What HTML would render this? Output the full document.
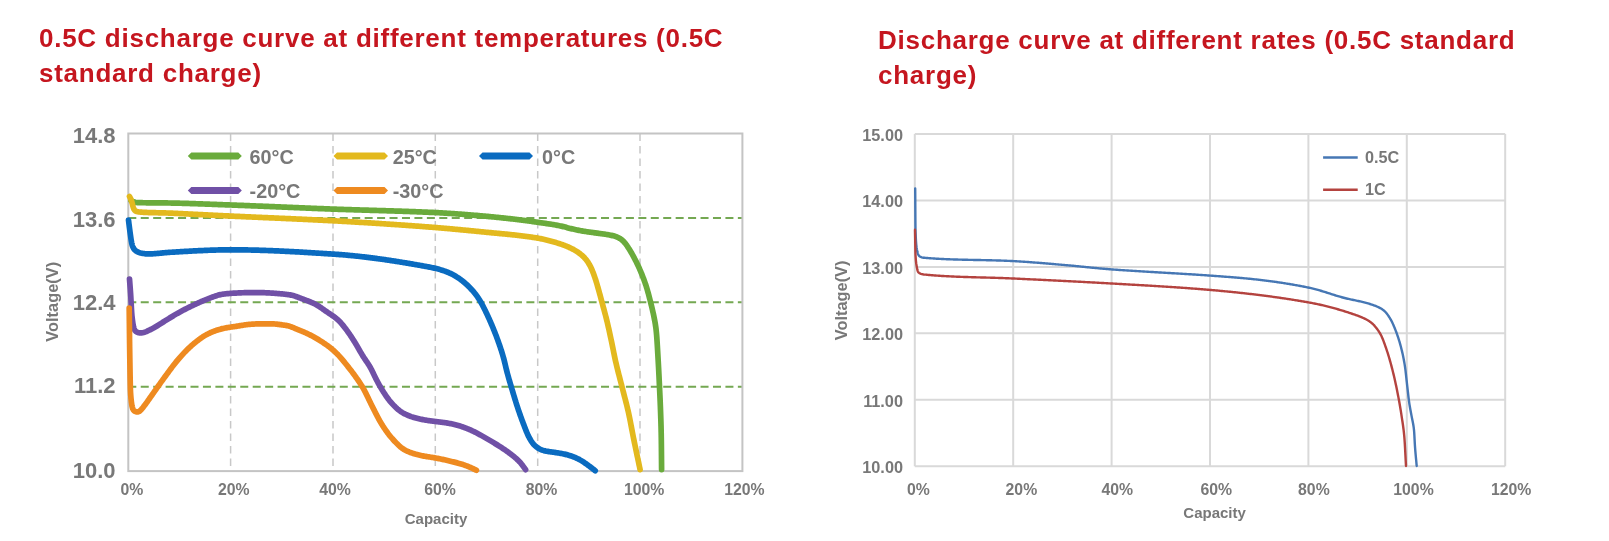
<!DOCTYPE html>
<html><head><meta charset="utf-8"><style>
html,body{margin:0;padding:0;background:#fff;width:1609px;height:541px;overflow:hidden}
svg{display:block;will-change:transform}
text{font-family:"Liberation Sans",sans-serif;font-weight:bold}
.title{font-size:26px;fill:#c5161f;letter-spacing:0.74px}
.ly{font-size:22px;fill:#787878}
.lxl{font-size:15.8px;fill:#787878}
.cap{font-size:15px;fill:#787878}
.volt{font-size:16.4px;fill:#787878}
.leg{font-size:19.8px;fill:#787878}
.ry{font-size:16.3px;fill:#787878}
.rxl{font-size:15.8px;fill:#787878}
.rleg{font-size:16.2px;fill:#787878}
</style></head><body>
<svg width="1609" height="541" viewBox="0 0 1609 541">
<text x="39" y="47" class="title">0.5C discharge curve at different temperatures (0.5C</text>
<text x="39" y="81.5" class="title">standard charge)</text>
<text x="878" y="49.1" class="title">Discharge curve at different rates (0.5C standard</text>
<text x="878" y="83.8" class="title">charge)</text>
<line x1="230.6" y1="133.5" x2="230.6" y2="471.1" stroke="#c8c8c8" stroke-width="1.5" stroke-dasharray="7.5,5"/>
<line x1="333.0" y1="133.5" x2="333.0" y2="471.1" stroke="#c8c8c8" stroke-width="1.5" stroke-dasharray="7.5,5"/>
<line x1="435.3" y1="133.5" x2="435.3" y2="471.1" stroke="#c8c8c8" stroke-width="1.5" stroke-dasharray="7.5,5"/>
<line x1="537.7" y1="133.5" x2="537.7" y2="471.1" stroke="#c8c8c8" stroke-width="1.5" stroke-dasharray="7.5,5"/>
<line x1="640.0" y1="133.5" x2="640.0" y2="471.1" stroke="#c8c8c8" stroke-width="1.5" stroke-dasharray="7.5,5"/>
<line x1="128.3" y1="217.9" x2="742.4" y2="217.9" stroke="#74a852" stroke-width="2" stroke-dasharray="8,4.44"/>
<line x1="128.3" y1="302.3" x2="742.4" y2="302.3" stroke="#74a852" stroke-width="2" stroke-dasharray="8,4.44"/>
<line x1="128.3" y1="386.7" x2="742.4" y2="386.7" stroke="#74a852" stroke-width="2" stroke-dasharray="8,4.44"/>
<rect x="128.3" y="133.5" width="614.1" height="337.6" fill="none" stroke="#c4c4c4" stroke-width="2"/>
<text x="115.5" y="142.8" class="ly" text-anchor="end">14.8</text>
<text x="115.5" y="227.2" class="ly" text-anchor="end">13.6</text>
<text x="115.5" y="309.6" class="ly" text-anchor="end">12.4</text>
<text x="115.5" y="393.1" class="ly" text-anchor="end">11.2</text>
<text x="115.5" y="477.6" class="ly" text-anchor="end">10.0</text>
<text x="131.8" y="495" class="lxl" text-anchor="middle">0%</text>
<text x="233.7" y="495" class="lxl" text-anchor="middle">20%</text>
<text x="335.0" y="495" class="lxl" text-anchor="middle">40%</text>
<text x="440.0" y="495" class="lxl" text-anchor="middle">60%</text>
<text x="541.6" y="495" class="lxl" text-anchor="middle">80%</text>
<text x="644.1" y="495" class="lxl" text-anchor="middle">100%</text>
<text x="744.4" y="495" class="lxl" text-anchor="middle">120%</text>
<text x="436" y="524.3" class="cap" text-anchor="middle">Capacity</text>
<text transform="translate(57.5,301.8) rotate(-90)" class="volt" text-anchor="middle">Voltage(V)</text>
<path d="M131.00,200.50 L131.83,201.00 L132.68,201.45 L133.56,201.84 L134.47,202.13 L135.41,202.34 L136.38,202.48 L137.36,202.56 L138.35,202.62 L139.35,202.65 L140.35,202.68 L141.35,202.70 L142.35,202.72 L143.35,202.74 L144.35,202.75 L145.35,202.77 L146.35,202.78 L147.35,202.79 L148.35,202.80 L149.35,202.81 L150.35,202.82 L151.35,202.83 L152.34,202.83 L153.34,202.84 L154.34,202.85 L155.34,202.85 L156.34,202.86 L157.34,202.87 L158.34,202.87 L159.34,202.88 L160.34,202.89 L161.34,202.89 L162.34,202.90 L163.34,202.91 L164.34,202.92 L165.34,202.93 L166.34,202.95 L167.34,202.96 L168.34,202.98 L169.34,202.99 L170.34,203.01 L171.34,203.03 L172.34,203.05 L173.34,203.07 L174.34,203.09 L175.34,203.11 L176.34,203.14 L177.34,203.16 L178.34,203.19 L179.34,203.21 L180.34,203.24 L181.34,203.26 L182.34,203.29 L183.34,203.32 L184.34,203.35 L185.34,203.38 L186.34,203.41 L187.34,203.44 L188.34,203.47 L189.34,203.50 L190.34,203.53 L191.34,203.56 L192.34,203.60 L193.34,203.63 L194.33,203.66 L195.33,203.70 L196.33,203.73 L197.33,203.76 L198.33,203.80 L199.33,203.83 L200.33,203.87 L201.33,203.91 L202.33,203.94 L203.33,203.98 L204.33,204.01 L205.33,204.05 L206.33,204.09 L207.33,204.12 L208.33,204.16 L209.33,204.20 L210.32,204.24 L211.32,204.27 L212.32,204.31 L213.32,204.35 L214.32,204.39 L215.32,204.42 L216.32,204.46 L217.32,204.50 L218.32,204.54 L219.32,204.58 L220.32,204.61 L221.32,204.65 L222.32,204.69 L223.32,204.73 L224.31,204.76 L225.31,204.80 L226.31,204.84 L227.31,204.87 L228.31,204.91 L229.31,204.95 L230.31,204.98 L231.31,205.02 L232.31,205.05 L233.31,205.09 L234.31,205.13 L235.31,205.16 L236.31,205.20 L237.31,205.24 L238.31,205.28 L239.30,205.31 L240.30,205.35 L241.30,205.39 L242.30,205.43 L243.30,205.46 L244.30,205.50 L245.30,205.54 L246.30,205.58 L247.30,205.62 L248.30,205.66 L249.30,205.70 L250.30,205.74 L251.30,205.78 L252.29,205.82 L253.29,205.86 L254.29,205.90 L255.29,205.94 L256.29,205.98 L257.29,206.02 L258.29,206.06 L259.29,206.10 L260.29,206.14 L261.29,206.18 L262.29,206.22 L263.29,206.26 L264.28,206.30 L265.28,206.34 L266.28,206.38 L267.28,206.42 L268.28,206.47 L269.28,206.51 L270.28,206.55 L271.28,206.59 L272.28,206.63 L273.28,206.67 L274.28,206.71 L275.28,206.76 L276.27,206.80 L277.27,206.84 L278.27,206.88 L279.27,206.92 L280.27,206.97 L281.27,207.01 L282.27,207.05 L283.27,207.09 L284.27,207.13 L285.27,207.17 L286.27,207.22 L287.27,207.26 L288.26,207.30 L289.26,207.34 L290.26,207.38 L291.26,207.43 L292.26,207.47 L293.26,207.51 L294.26,207.55 L295.26,207.59 L296.26,207.63 L297.26,207.68 L298.26,207.72 L299.25,207.76 L300.25,207.80 L301.25,207.84 L302.25,207.88 L303.25,207.92 L304.25,207.96 L305.25,208.01 L306.25,208.05 L307.25,208.09 L308.25,208.13 L309.25,208.17 L310.25,208.21 L311.24,208.25 L312.24,208.29 L313.24,208.33 L314.24,208.37 L315.24,208.41 L316.24,208.45 L317.24,208.49 L318.24,208.53 L319.24,208.57 L320.24,208.61 L321.24,208.65 L322.24,208.68 L323.24,208.72 L324.23,208.76 L325.23,208.80 L326.23,208.84 L327.23,208.88 L328.23,208.91 L329.23,208.95 L330.23,208.99 L331.23,209.03 L332.23,209.06 L333.23,209.10 L334.23,209.14 L335.23,209.17 L336.23,209.21 L337.23,209.24 L338.22,209.28 L339.22,209.31 L340.22,209.35 L341.22,209.38 L342.22,209.42 L343.22,209.45 L344.22,209.48 L345.22,209.52 L346.22,209.55 L347.22,209.58 L348.22,209.61 L349.22,209.65 L350.22,209.68 L351.22,209.71 L352.22,209.74 L353.22,209.77 L354.22,209.80 L355.22,209.83 L356.22,209.87 L357.21,209.90 L358.21,209.93 L359.21,209.96 L360.21,209.99 L361.21,210.02 L362.21,210.05 L363.21,210.08 L364.21,210.11 L365.21,210.14 L366.21,210.17 L367.21,210.19 L368.21,210.22 L369.21,210.25 L370.21,210.28 L371.21,210.31 L372.21,210.34 L373.21,210.37 L374.21,210.40 L375.21,210.43 L376.21,210.46 L377.21,210.49 L378.21,210.52 L379.21,210.55 L380.20,210.58 L381.20,210.61 L382.20,210.64 L383.20,210.66 L384.20,210.69 L385.20,210.72 L386.20,210.75 L387.20,210.78 L388.20,210.82 L389.20,210.85 L390.20,210.88 L391.20,210.91 L392.20,210.94 L393.20,210.97 L394.20,211.00 L395.20,211.03 L396.20,211.06 L397.20,211.10 L398.20,211.13 L399.20,211.16 L400.20,211.19 L401.19,211.22 L402.19,211.26 L403.19,211.29 L404.19,211.33 L405.19,211.36 L406.19,211.39 L407.19,211.43 L408.19,211.46 L409.19,211.50 L410.19,211.53 L411.19,211.57 L412.19,211.61 L413.19,211.64 L414.19,211.68 L415.19,211.72 L416.19,211.76 L417.18,211.79 L418.18,211.83 L419.18,211.87 L420.18,211.91 L421.18,211.95 L422.18,211.99 L423.18,212.03 L424.18,212.07 L425.18,212.12 L426.18,212.16 L427.18,212.20 L428.18,212.24 L429.17,212.29 L430.17,212.33 L431.17,212.38 L432.17,212.42 L433.17,212.47 L434.17,212.52 L435.17,212.56 L436.17,212.61 L437.17,212.66 L438.16,212.71 L439.16,212.76 L440.16,212.82 L441.16,212.87 L442.16,212.93 L443.16,212.98 L444.16,213.04 L445.15,213.10 L446.15,213.16 L447.15,213.23 L448.15,213.29 L449.15,213.35 L450.14,213.42 L451.14,213.48 L452.14,213.55 L453.14,213.62 L454.13,213.69 L455.13,213.76 L456.13,213.83 L457.13,213.90 L458.12,213.97 L459.12,214.05 L460.12,214.12 L461.12,214.20 L462.11,214.27 L463.11,214.35 L464.11,214.42 L465.10,214.50 L466.10,214.58 L467.10,214.66 L468.09,214.74 L469.09,214.81 L470.09,214.89 L471.09,214.97 L472.08,215.05 L473.08,215.13 L474.08,215.22 L475.07,215.30 L476.07,215.38 L477.07,215.46 L478.06,215.55 L479.06,215.63 L480.05,215.72 L481.05,215.81 L482.05,215.90 L483.04,215.98 L484.04,216.07 L485.03,216.16 L486.03,216.26 L487.03,216.35 L488.02,216.44 L489.02,216.54 L490.01,216.63 L491.01,216.73 L492.00,216.82 L493.00,216.92 L493.99,217.02 L494.99,217.12 L495.98,217.22 L496.98,217.32 L497.97,217.42 L498.97,217.52 L499.96,217.63 L500.96,217.73 L501.95,217.83 L502.95,217.94 L503.94,218.05 L504.94,218.15 L505.93,218.26 L506.92,218.37 L507.92,218.48 L508.91,218.59 L509.91,218.70 L510.90,218.81 L511.89,218.92 L512.89,219.03 L513.88,219.15 L514.87,219.26 L515.87,219.38 L516.86,219.49 L517.85,219.61 L518.85,219.73 L519.84,219.85 L520.83,219.97 L521.82,220.10 L522.82,220.22 L523.81,220.35 L524.80,220.48 L525.79,220.61 L526.78,220.75 L527.77,220.88 L528.76,221.02 L529.75,221.16 L530.74,221.29 L531.73,221.43 L532.72,221.57 L533.71,221.71 L534.70,221.86 L535.69,222.00 L536.68,222.14 L537.67,222.28 L538.66,222.42 L539.65,222.56 L540.64,222.70 L541.63,222.85 L542.62,222.99 L543.61,223.13 L544.60,223.27 L545.59,223.41 L546.58,223.56 L547.57,223.70 L548.56,223.85 L549.55,224.00 L550.54,224.15 L551.53,224.31 L552.51,224.47 L553.50,224.63 L554.49,224.80 L555.47,224.97 L556.45,225.14 L557.44,225.33 L558.42,225.52 L559.40,225.71 L560.38,225.92 L561.35,226.14 L562.33,226.37 L563.30,226.61 L564.26,226.86 L565.23,227.11 L566.20,227.37 L567.16,227.63 L568.13,227.89 L569.09,228.15 L570.06,228.40 L571.03,228.64 L572.00,228.87 L572.98,229.10 L573.95,229.32 L574.93,229.53 L575.91,229.74 L576.89,229.95 L577.87,230.15 L578.85,230.34 L579.83,230.53 L580.81,230.72 L581.79,230.90 L582.78,231.07 L583.77,231.24 L584.75,231.40 L585.74,231.56 L586.73,231.71 L587.72,231.85 L588.71,231.99 L589.70,232.13 L590.69,232.27 L591.68,232.40 L592.67,232.54 L593.66,232.67 L594.65,232.80 L595.64,232.94 L596.63,233.07 L597.63,233.20 L598.62,233.33 L599.61,233.46 L600.60,233.60 L601.59,233.73 L602.58,233.86 L603.57,234.00 L604.56,234.15 L605.55,234.30 L606.54,234.46 L607.52,234.62 L608.51,234.80 L609.49,234.98 L610.47,235.18 L611.45,235.38 L612.42,235.60 L613.39,235.84 L614.35,236.10 L615.31,236.39 L616.25,236.71 L617.18,237.07 L618.08,237.48 L618.96,237.93 L619.81,238.43 L620.64,238.98 L621.44,239.57 L622.21,240.20 L622.95,240.86 L623.66,241.55 L624.34,242.28 L624.99,243.03 L625.61,243.81 L626.21,244.60 L626.79,245.42 L627.35,246.24 L627.90,247.08 L628.44,247.92 L628.98,248.76 L629.50,249.61 L630.03,250.46 L630.55,251.32 L631.06,252.18 L631.56,253.04 L632.06,253.91 L632.55,254.78 L633.03,255.66 L633.51,256.53 L633.98,257.42 L634.45,258.30 L634.91,259.19 L635.37,260.08 L635.82,260.97 L636.26,261.86 L636.70,262.76 L637.14,263.66 L637.57,264.56 L638.00,265.47 L638.42,266.37 L638.84,267.28 L639.25,268.20 L639.65,269.11 L640.05,270.03 L640.45,270.94 L640.84,271.86 L641.23,272.79 L641.61,273.71 L641.98,274.64 L642.35,275.57 L642.72,276.50 L643.08,277.43 L643.44,278.36 L643.79,279.30 L644.14,280.24 L644.48,281.18 L644.82,282.12 L645.14,283.06 L645.47,284.01 L645.78,284.96 L646.10,285.91 L646.40,286.86 L646.70,287.81 L646.99,288.77 L647.27,289.73 L647.55,290.69 L647.82,291.65 L648.09,292.62 L648.35,293.58 L648.61,294.55 L648.86,295.51 L649.12,296.48 L649.37,297.45 L649.62,298.42 L649.87,299.39 L650.11,300.35 L650.36,301.32 L650.61,302.29 L650.85,303.26 L651.10,304.23 L651.34,305.20 L651.58,306.17 L651.82,307.14 L652.05,308.12 L652.28,309.09 L652.51,310.06 L652.73,311.04 L652.95,312.01 L653.16,312.99 L653.37,313.97 L653.58,314.95 L653.78,315.93 L653.98,316.91 L654.18,317.89 L654.37,318.87 L654.56,319.85 L654.75,320.83 L654.93,321.82 L655.10,322.80 L655.27,323.79 L655.42,324.77 L655.57,325.76 L655.72,326.75 L655.85,327.74 L655.98,328.73 L656.10,329.73 L656.21,330.72 L656.31,331.71 L656.41,332.71 L656.50,333.70 L656.59,334.70 L656.67,335.70 L656.74,336.69 L656.82,337.69 L656.89,338.69 L656.95,339.69 L657.02,340.69 L657.08,341.68 L657.15,342.68 L657.21,343.68 L657.27,344.68 L657.33,345.68 L657.39,346.67 L657.45,347.67 L657.51,348.67 L657.56,349.67 L657.62,350.67 L657.68,351.67 L657.73,352.66 L657.79,353.66 L657.85,354.66 L657.90,355.66 L657.96,356.66 L658.02,357.66 L658.07,358.65 L658.13,359.65 L658.19,360.65 L658.24,361.65 L658.30,362.65 L658.35,363.65 L658.41,364.65 L658.46,365.64 L658.51,366.64 L658.57,367.64 L658.62,368.64 L658.67,369.64 L658.72,370.64 L658.77,371.64 L658.82,372.63 L658.87,373.63 L658.92,374.63 L658.97,375.63 L659.02,376.63 L659.07,377.63 L659.11,378.63 L659.16,379.63 L659.21,380.62 L659.26,381.62 L659.30,382.62 L659.35,383.62 L659.40,384.62 L659.45,385.62 L659.49,386.62 L659.54,387.62 L659.59,388.62 L659.63,389.61 L659.68,390.61 L659.73,391.61 L659.77,392.61 L659.82,393.61 L659.86,394.61 L659.91,395.61 L659.96,396.61 L660.00,397.61 L660.05,398.61 L660.09,399.60 L660.13,400.60 L660.18,401.60 L660.22,402.60 L660.26,403.60 L660.30,404.60 L660.34,405.60 L660.38,406.60 L660.42,407.60 L660.45,408.60 L660.49,409.60 L660.53,410.60 L660.56,411.60 L660.60,412.59 L660.63,413.59 L660.67,414.59 L660.70,415.59 L660.74,416.59 L660.77,417.59 L660.81,418.59 L660.84,419.59 L660.87,420.59 L660.90,421.59 L660.93,422.59 L660.96,423.59 L660.99,424.59 L661.02,425.59 L661.05,426.59 L661.07,427.59 L661.10,428.59 L661.12,429.59 L661.14,430.59 L661.16,431.59 L661.19,432.59 L661.21,433.59 L661.23,434.59 L661.25,435.58 L661.26,436.58 L661.28,437.58 L661.30,438.58 L661.31,439.58 L661.33,440.58 L661.34,441.58 L661.35,442.58 L661.36,443.58 L661.38,444.58 L661.39,445.58 L661.40,446.58 L661.41,447.58 L661.42,448.58 L661.42,449.58 L661.43,450.58 L661.44,451.58 L661.45,452.58 L661.46,453.58 L661.47,454.58 L661.48,455.58 L661.49,456.58 L661.49,457.58 L661.50,458.58 L661.51,459.58 L661.52,460.58 L661.53,461.58 L661.54,462.58 L661.55,463.58 L661.55,464.57 L661.56,465.55 L661.57,466.51 L661.58,467.43 L661.59,468.32 L661.60,469.18 L661.60,469.60" fill="none" stroke="#6aab3c" stroke-width="5.7" stroke-linejoin="round" stroke-linecap="round"/>
<path d="M129.50,196.50 L129.97,197.38 L130.42,198.26 L130.83,199.16 L131.21,200.08 L131.54,201.02 L131.84,201.97 L132.10,202.93 L132.35,203.89 L132.59,204.86 L132.83,205.83 L133.08,206.79 L133.36,207.72 L133.69,208.62 L134.09,209.44 L134.59,210.16 L135.21,210.75 L135.94,211.20 L136.76,211.53 L137.66,211.75 L138.61,211.91 L139.59,212.02 L140.58,212.11 L141.57,212.18 L142.57,212.25 L143.57,212.31 L144.57,212.36 L145.57,212.41 L146.57,212.45 L147.56,212.49 L148.56,212.53 L149.56,212.56 L150.56,212.60 L151.56,212.62 L152.56,212.65 L153.56,212.67 L154.56,212.70 L155.56,212.72 L156.56,212.74 L157.56,212.76 L158.56,212.78 L159.56,212.80 L160.56,212.82 L161.56,212.84 L162.56,212.86 L163.56,212.89 L164.56,212.92 L165.56,212.94 L166.56,212.98 L167.56,213.01 L168.56,213.05 L169.56,213.09 L170.55,213.13 L171.55,213.17 L172.55,213.22 L173.55,213.26 L174.55,213.31 L175.55,213.36 L176.55,213.40 L177.55,213.45 L178.55,213.50 L179.55,213.55 L180.54,213.59 L181.54,213.64 L182.54,213.69 L183.54,213.74 L184.54,213.79 L185.54,213.84 L186.54,213.89 L187.54,213.94 L188.53,213.99 L189.53,214.04 L190.53,214.08 L191.53,214.13 L192.53,214.18 L193.53,214.23 L194.53,214.28 L195.53,214.33 L196.52,214.38 L197.52,214.43 L198.52,214.49 L199.52,214.54 L200.52,214.59 L201.52,214.64 L202.52,214.69 L203.52,214.74 L204.51,214.79 L205.51,214.84 L206.51,214.89 L207.51,214.94 L208.51,214.99 L209.51,215.04 L210.51,215.09 L211.51,215.14 L212.50,215.19 L213.50,215.24 L214.50,215.29 L215.50,215.34 L216.50,215.39 L217.50,215.44 L218.50,215.48 L219.50,215.53 L220.49,215.58 L221.49,215.63 L222.49,215.68 L223.49,215.73 L224.49,215.77 L225.49,215.82 L226.49,215.87 L227.49,215.92 L228.49,215.96 L229.48,216.01 L230.48,216.06 L231.48,216.10 L232.48,216.15 L233.48,216.20 L234.48,216.24 L235.48,216.29 L236.48,216.34 L237.48,216.38 L238.47,216.43 L239.47,216.47 L240.47,216.52 L241.47,216.56 L242.47,216.61 L243.47,216.65 L244.47,216.70 L245.47,216.74 L246.47,216.79 L247.47,216.83 L248.46,216.87 L249.46,216.92 L250.46,216.96 L251.46,217.01 L252.46,217.05 L253.46,217.09 L254.46,217.14 L255.46,217.18 L256.46,217.23 L257.46,217.27 L258.45,217.31 L259.45,217.36 L260.45,217.40 L261.45,217.44 L262.45,217.49 L263.45,217.53 L264.45,217.57 L265.45,217.62 L266.45,217.66 L267.45,217.70 L268.45,217.75 L269.44,217.79 L270.44,217.84 L271.44,217.88 L272.44,217.92 L273.44,217.97 L274.44,218.01 L275.44,218.05 L276.44,218.10 L277.44,218.14 L278.44,218.18 L279.44,218.23 L280.43,218.27 L281.43,218.32 L282.43,218.36 L283.43,218.40 L284.43,218.45 L285.43,218.49 L286.43,218.54 L287.43,218.58 L288.43,218.62 L289.43,218.67 L290.42,218.71 L291.42,218.76 L292.42,218.80 L293.42,218.85 L294.42,218.89 L295.42,218.94 L296.42,218.99 L297.42,219.03 L298.42,219.08 L299.42,219.12 L300.41,219.17 L301.41,219.21 L302.41,219.26 L303.41,219.31 L304.41,219.35 L305.41,219.40 L306.41,219.45 L307.41,219.50 L308.41,219.54 L309.40,219.59 L310.40,219.64 L311.40,219.69 L312.40,219.74 L313.40,219.78 L314.40,219.83 L315.40,219.88 L316.40,219.93 L317.39,219.98 L318.39,220.03 L319.39,220.08 L320.39,220.13 L321.39,220.18 L322.39,220.23 L323.39,220.28 L324.39,220.34 L325.38,220.39 L326.38,220.44 L327.38,220.49 L328.38,220.54 L329.38,220.60 L330.38,220.65 L331.38,220.70 L332.37,220.76 L333.37,220.81 L334.37,220.86 L335.37,220.92 L336.37,220.97 L337.37,221.03 L338.37,221.08 L339.36,221.14 L340.36,221.19 L341.36,221.25 L342.36,221.31 L343.36,221.36 L344.36,221.42 L345.35,221.47 L346.35,221.53 L347.35,221.59 L348.35,221.65 L349.35,221.70 L350.35,221.76 L351.34,221.82 L352.34,221.88 L353.34,221.93 L354.34,221.99 L355.34,222.05 L356.34,222.11 L357.33,222.17 L358.33,222.23 L359.33,222.29 L360.33,222.35 L361.33,222.41 L362.33,222.47 L363.32,222.53 L364.32,222.59 L365.32,222.65 L366.32,222.71 L367.32,222.77 L368.31,222.83 L369.31,222.89 L370.31,222.96 L371.31,223.02 L372.31,223.08 L373.30,223.14 L374.30,223.21 L375.30,223.27 L376.30,223.33 L377.30,223.40 L378.29,223.46 L379.29,223.52 L380.29,223.59 L381.29,223.65 L382.29,223.72 L383.28,223.78 L384.28,223.85 L385.28,223.91 L386.28,223.98 L387.28,224.04 L388.27,224.11 L389.27,224.18 L390.27,224.24 L391.27,224.31 L392.26,224.38 L393.26,224.44 L394.26,224.51 L395.26,224.58 L396.26,224.65 L397.25,224.72 L398.25,224.78 L399.25,224.85 L400.25,224.92 L401.24,224.99 L402.24,225.06 L403.24,225.13 L404.24,225.20 L405.23,225.27 L406.23,225.34 L407.23,225.41 L408.23,225.48 L409.22,225.56 L410.22,225.63 L411.22,225.70 L412.22,225.77 L413.21,225.84 L414.21,225.92 L415.21,225.99 L416.21,226.06 L417.20,226.14 L418.20,226.21 L419.20,226.28 L420.19,226.36 L421.19,226.43 L422.19,226.51 L423.19,226.58 L424.18,226.66 L425.18,226.73 L426.18,226.81 L427.17,226.88 L428.17,226.96 L429.17,227.04 L430.17,227.11 L431.16,227.19 L432.16,227.27 L433.16,227.35 L434.15,227.43 L435.15,227.51 L436.15,227.59 L437.14,227.67 L438.14,227.75 L439.14,227.84 L440.13,227.92 L441.13,228.00 L442.13,228.09 L443.12,228.17 L444.12,228.26 L445.12,228.34 L446.11,228.43 L447.11,228.52 L448.10,228.60 L449.10,228.69 L450.10,228.78 L451.09,228.87 L452.09,228.96 L453.08,229.05 L454.08,229.14 L455.08,229.23 L456.07,229.32 L457.07,229.41 L458.06,229.51 L459.06,229.60 L460.05,229.69 L461.05,229.79 L462.05,229.88 L463.04,229.97 L464.04,230.07 L465.03,230.16 L466.03,230.26 L467.02,230.36 L468.02,230.45 L469.01,230.55 L470.01,230.64 L471.00,230.74 L472.00,230.84 L472.99,230.94 L473.99,231.03 L474.99,231.13 L475.98,231.23 L476.98,231.33 L477.97,231.43 L478.97,231.53 L479.96,231.63 L480.96,231.73 L481.95,231.82 L482.95,231.92 L483.94,232.02 L484.94,232.12 L485.93,232.22 L486.93,232.31 L487.92,232.41 L488.92,232.51 L489.91,232.60 L490.91,232.70 L491.90,232.79 L492.90,232.88 L493.90,232.98 L494.89,233.07 L495.89,233.16 L496.88,233.26 L497.88,233.35 L498.87,233.45 L499.87,233.54 L500.86,233.63 L501.86,233.73 L502.86,233.82 L503.85,233.92 L504.85,234.02 L505.84,234.11 L506.84,234.21 L507.83,234.31 L508.83,234.41 L509.82,234.51 L510.82,234.62 L511.81,234.72 L512.81,234.82 L513.80,234.93 L514.79,235.04 L515.79,235.15 L516.78,235.26 L517.78,235.37 L518.77,235.48 L519.76,235.60 L520.75,235.72 L521.75,235.84 L522.74,235.96 L523.73,236.08 L524.72,236.21 L525.72,236.34 L526.71,236.47 L527.70,236.60 L528.69,236.74 L529.68,236.88 L530.67,237.02 L531.66,237.16 L532.65,237.31 L533.64,237.46 L534.62,237.62 L535.61,237.77 L536.60,237.93 L537.58,238.10 L538.57,238.28 L539.55,238.46 L540.53,238.64 L541.51,238.84 L542.49,239.04 L543.47,239.26 L544.45,239.47 L545.42,239.70 L546.39,239.93 L547.36,240.17 L548.33,240.42 L549.30,240.67 L550.27,240.93 L551.23,241.19 L552.20,241.46 L553.16,241.73 L554.12,242.01 L555.08,242.29 L556.03,242.58 L556.99,242.87 L557.95,243.17 L558.90,243.47 L559.85,243.77 L560.80,244.09 L561.75,244.41 L562.69,244.74 L563.63,245.08 L564.56,245.44 L565.50,245.80 L566.42,246.17 L567.34,246.56 L568.26,246.96 L569.17,247.37 L570.08,247.79 L570.97,248.23 L571.87,248.68 L572.75,249.14 L573.63,249.62 L574.50,250.11 L575.36,250.62 L576.22,251.14 L577.06,251.67 L577.89,252.23 L578.71,252.79 L579.52,253.38 L580.31,253.99 L581.09,254.61 L581.86,255.25 L582.61,255.91 L583.33,256.59 L584.04,257.29 L584.73,258.02 L585.39,258.77 L586.02,259.53 L586.63,260.32 L587.22,261.13 L587.78,261.95 L588.33,262.79 L588.85,263.64 L589.36,264.50 L589.85,265.37 L590.31,266.25 L590.76,267.14 L591.19,268.04 L591.61,268.95 L592.00,269.87 L592.39,270.79 L592.76,271.72 L593.12,272.65 L593.47,273.59 L593.82,274.53 L594.16,275.47 L594.50,276.41 L594.82,277.35 L595.14,278.30 L595.46,279.25 L595.77,280.20 L596.06,281.15 L596.36,282.11 L596.64,283.07 L596.93,284.03 L597.21,284.99 L597.48,285.95 L597.76,286.91 L598.03,287.87 L598.31,288.83 L598.58,289.80 L598.85,290.76 L599.12,291.72 L599.39,292.68 L599.65,293.65 L599.92,294.61 L600.18,295.58 L600.44,296.54 L600.70,297.51 L600.96,298.47 L601.22,299.44 L601.48,300.41 L601.74,301.37 L602.00,302.34 L602.27,303.30 L602.53,304.27 L602.79,305.23 L603.05,306.20 L603.31,307.16 L603.58,308.13 L603.84,309.09 L604.10,310.06 L604.36,311.02 L604.62,311.99 L604.88,312.95 L605.14,313.92 L605.39,314.89 L605.64,315.85 L605.89,316.82 L606.14,317.79 L606.39,318.76 L606.63,319.73 L606.87,320.70 L607.10,321.67 L607.34,322.65 L607.57,323.62 L607.79,324.59 L608.02,325.57 L608.24,326.54 L608.46,327.52 L608.68,328.49 L608.90,329.47 L609.12,330.45 L609.33,331.42 L609.55,332.40 L609.76,333.38 L609.97,334.35 L610.18,335.33 L610.40,336.31 L610.61,337.29 L610.82,338.26 L611.02,339.24 L611.23,340.22 L611.44,341.20 L611.65,342.18 L611.85,343.15 L612.06,344.13 L612.26,345.11 L612.46,346.09 L612.66,347.07 L612.86,348.05 L613.05,349.03 L613.25,350.01 L613.45,350.99 L613.64,351.98 L613.84,352.96 L614.04,353.94 L614.24,354.92 L614.44,355.90 L614.64,356.87 L614.85,357.85 L615.06,358.83 L615.27,359.81 L615.49,360.78 L615.71,361.76 L615.93,362.73 L616.16,363.71 L616.39,364.68 L616.62,365.65 L616.85,366.63 L617.09,367.60 L617.33,368.57 L617.57,369.54 L617.81,370.51 L618.06,371.48 L618.30,372.45 L618.55,373.42 L618.80,374.39 L619.05,375.35 L619.30,376.32 L619.55,377.29 L619.80,378.26 L620.05,379.23 L620.30,380.19 L620.55,381.16 L620.80,382.13 L621.05,383.10 L621.30,384.07 L621.55,385.04 L621.80,386.00 L622.04,386.97 L622.29,387.94 L622.54,388.91 L622.79,389.88 L623.04,390.85 L623.29,391.82 L623.54,392.78 L623.80,393.75 L624.05,394.72 L624.30,395.69 L624.56,396.65 L624.81,397.62 L625.06,398.59 L625.31,399.56 L625.56,400.52 L625.81,401.49 L626.06,402.46 L626.31,403.43 L626.55,404.40 L626.79,405.37 L627.03,406.34 L627.26,407.31 L627.50,408.29 L627.72,409.26 L627.95,410.23 L628.17,411.21 L628.39,412.18 L628.61,413.16 L628.82,414.14 L629.03,415.12 L629.24,416.09 L629.44,417.07 L629.64,418.05 L629.84,419.03 L630.03,420.01 L630.23,421.00 L630.42,421.98 L630.61,422.96 L630.80,423.94 L630.98,424.92 L631.17,425.91 L631.36,426.89 L631.54,427.87 L631.73,428.85 L631.92,429.84 L632.10,430.82 L632.29,431.80 L632.48,432.78 L632.67,433.76 L632.86,434.75 L633.05,435.73 L633.25,436.71 L633.44,437.69 L633.64,438.67 L633.84,439.65 L634.04,440.63 L634.24,441.61 L634.44,442.59 L634.64,443.57 L634.84,444.55 L635.04,445.53 L635.25,446.51 L635.45,447.48 L635.65,448.46 L635.86,449.44 L636.06,450.42 L636.27,451.40 L636.47,452.38 L636.68,453.36 L636.89,454.34 L637.09,455.31 L637.30,456.29 L637.50,457.27 L637.71,458.25 L637.92,459.23 L638.12,460.21 L638.33,461.19 L638.54,462.16 L638.74,463.14 L638.95,464.11 L639.15,465.08 L639.35,466.03 L639.55,466.97 L639.74,467.87 L639.92,468.74 L640.10,469.60" fill="none" stroke="#e3b91e" stroke-width="5.7" stroke-linejoin="round" stroke-linecap="round"/>
<path d="M128.50,220.00 L128.62,220.99 L128.74,221.99 L128.86,222.98 L128.98,223.97 L129.10,224.96 L129.22,225.96 L129.34,226.95 L129.47,227.94 L129.60,228.93 L129.73,229.92 L129.86,230.92 L129.99,231.91 L130.13,232.90 L130.27,233.89 L130.41,234.88 L130.55,235.87 L130.69,236.86 L130.84,237.85 L130.98,238.84 L131.13,239.82 L131.29,240.81 L131.46,241.80 L131.64,242.78 L131.85,243.75 L132.09,244.72 L132.37,245.66 L132.71,246.59 L133.11,247.48 L133.58,248.34 L134.12,249.14 L134.74,249.87 L135.44,250.53 L136.21,251.10 L137.04,251.59 L137.92,252.01 L138.83,252.37 L139.77,252.68 L140.73,252.95 L141.70,253.18 L142.67,253.38 L143.66,253.55 L144.64,253.69 L145.64,253.79 L146.63,253.86 L147.63,253.91 L148.62,253.93 L149.62,253.93 L150.62,253.91 L151.62,253.87 L152.62,253.82 L153.62,253.76 L154.61,253.69 L155.61,253.61 L156.61,253.53 L157.60,253.44 L158.60,253.34 L159.59,253.24 L160.59,253.14 L161.58,253.04 L162.58,252.94 L163.57,252.84 L164.57,252.75 L165.56,252.66 L166.56,252.57 L167.56,252.49 L168.55,252.41 L169.55,252.34 L170.55,252.28 L171.55,252.22 L172.55,252.16 L173.54,252.10 L174.54,252.04 L175.54,251.98 L176.54,251.93 L177.54,251.87 L178.54,251.81 L179.53,251.75 L180.53,251.69 L181.53,251.64 L182.53,251.58 L183.53,251.52 L184.53,251.47 L185.52,251.41 L186.52,251.35 L187.52,251.30 L188.52,251.24 L189.52,251.19 L190.52,251.13 L191.51,251.08 L192.51,251.02 L193.51,250.97 L194.51,250.92 L195.51,250.87 L196.51,250.81 L197.51,250.76 L198.51,250.72 L199.50,250.67 L200.50,250.62 L201.50,250.57 L202.50,250.53 L203.50,250.48 L204.50,250.44 L205.50,250.39 L206.50,250.35 L207.50,250.31 L208.50,250.27 L209.49,250.24 L210.49,250.20 L211.49,250.16 L212.49,250.13 L213.49,250.10 L214.49,250.07 L215.49,250.04 L216.49,250.01 L217.49,249.98 L218.49,249.96 L219.49,249.94 L220.49,249.91 L221.49,249.90 L222.49,249.88 L223.49,249.86 L224.49,249.85 L225.49,249.84 L226.49,249.83 L227.49,249.82 L228.49,249.81 L229.49,249.81 L230.49,249.81 L231.49,249.80 L232.49,249.81 L233.49,249.81 L234.49,249.81 L235.49,249.82 L236.49,249.82 L237.49,249.83 L238.49,249.84 L239.49,249.85 L240.49,249.86 L241.49,249.87 L242.49,249.88 L243.49,249.90 L244.49,249.91 L245.49,249.93 L246.49,249.94 L247.49,249.96 L248.49,249.98 L249.49,250.00 L250.49,250.02 L251.49,250.04 L252.49,250.07 L253.49,250.09 L254.49,250.12 L255.49,250.14 L256.49,250.17 L257.49,250.20 L258.48,250.22 L259.48,250.25 L260.48,250.28 L261.48,250.31 L262.48,250.35 L263.48,250.38 L264.48,250.41 L265.48,250.45 L266.48,250.48 L267.48,250.52 L268.48,250.56 L269.48,250.59 L270.48,250.63 L271.48,250.67 L272.48,250.71 L273.48,250.75 L274.47,250.79 L275.47,250.84 L276.47,250.88 L277.47,250.92 L278.47,250.97 L279.47,251.01 L280.47,251.06 L281.47,251.10 L282.47,251.15 L283.47,251.20 L284.46,251.24 L285.46,251.29 L286.46,251.34 L287.46,251.39 L288.46,251.44 L289.46,251.49 L290.46,251.55 L291.46,251.60 L292.45,251.65 L293.45,251.70 L294.45,251.76 L295.45,251.81 L296.45,251.86 L297.45,251.92 L298.45,251.97 L299.44,252.03 L300.44,252.09 L301.44,252.14 L302.44,252.20 L303.44,252.26 L304.44,252.32 L305.43,252.37 L306.43,252.43 L307.43,252.49 L308.43,252.55 L309.43,252.61 L310.42,252.67 L311.42,252.73 L312.42,252.79 L313.42,252.85 L314.42,252.91 L315.42,252.97 L316.41,253.04 L317.41,253.10 L318.41,253.16 L319.41,253.22 L320.41,253.28 L321.40,253.35 L322.40,253.41 L323.40,253.47 L324.40,253.54 L325.40,253.60 L326.39,253.66 L327.39,253.73 L328.39,253.79 L329.39,253.86 L330.39,253.92 L331.38,253.98 L332.38,254.05 L333.38,254.11 L334.38,254.18 L335.37,254.25 L336.37,254.32 L337.37,254.39 L338.37,254.46 L339.36,254.54 L340.36,254.61 L341.36,254.69 L342.36,254.77 L343.35,254.85 L344.35,254.94 L345.34,255.02 L346.34,255.11 L347.34,255.20 L348.33,255.29 L349.33,255.38 L350.32,255.48 L351.32,255.57 L352.31,255.67 L353.31,255.77 L354.31,255.87 L355.30,255.97 L356.29,256.07 L357.29,256.18 L358.28,256.28 L359.28,256.39 L360.27,256.50 L361.27,256.61 L362.26,256.72 L363.25,256.84 L364.25,256.95 L365.24,257.07 L366.23,257.19 L367.22,257.31 L368.22,257.43 L369.21,257.55 L370.20,257.67 L371.19,257.80 L372.19,257.93 L373.18,258.05 L374.17,258.18 L375.16,258.31 L376.15,258.44 L377.14,258.58 L378.13,258.71 L379.13,258.85 L380.12,258.98 L381.11,259.12 L382.10,259.26 L383.09,259.40 L384.08,259.54 L385.07,259.69 L386.06,259.83 L387.05,259.97 L388.03,260.12 L389.02,260.27 L390.01,260.42 L391.00,260.57 L391.99,260.72 L392.98,260.87 L393.97,261.02 L394.95,261.17 L395.94,261.33 L396.93,261.48 L397.92,261.64 L398.91,261.80 L399.89,261.96 L400.88,262.12 L401.87,262.28 L402.85,262.44 L403.84,262.60 L404.83,262.76 L405.81,262.93 L406.80,263.09 L407.79,263.26 L408.77,263.43 L409.76,263.59 L410.74,263.76 L411.73,263.93 L412.72,264.10 L413.70,264.27 L414.69,264.44 L415.67,264.62 L416.66,264.79 L417.64,264.96 L418.62,265.14 L419.61,265.31 L420.59,265.49 L421.58,265.66 L422.56,265.84 L423.55,266.02 L424.53,266.20 L425.51,266.38 L426.50,266.56 L427.48,266.74 L428.46,266.92 L429.45,267.11 L430.43,267.30 L431.41,267.49 L432.39,267.70 L433.37,267.91 L434.34,268.12 L435.31,268.35 L436.29,268.59 L437.26,268.83 L438.22,269.08 L439.19,269.35 L440.15,269.62 L441.11,269.90 L442.06,270.20 L443.01,270.51 L443.96,270.83 L444.90,271.16 L445.84,271.50 L446.77,271.86 L447.70,272.23 L448.62,272.62 L449.54,273.02 L450.45,273.43 L451.35,273.86 L452.24,274.31 L453.13,274.78 L454.00,275.26 L454.87,275.76 L455.72,276.27 L456.57,276.80 L457.42,277.34 L458.25,277.89 L459.08,278.45 L459.89,279.02 L460.70,279.61 L461.51,280.20 L462.30,280.81 L463.08,281.44 L463.85,282.07 L464.61,282.72 L465.37,283.37 L466.11,284.04 L466.85,284.72 L467.57,285.40 L468.29,286.10 L469.00,286.80 L469.70,287.51 L470.40,288.23 L471.08,288.96 L471.76,289.70 L472.42,290.44 L473.08,291.20 L473.73,291.96 L474.36,292.73 L474.99,293.51 L475.60,294.30 L476.21,295.09 L476.80,295.90 L477.38,296.71 L477.95,297.53 L478.51,298.36 L479.06,299.20 L479.59,300.04 L480.11,300.90 L480.61,301.76 L481.10,302.63 L481.59,303.50 L482.06,304.38 L482.53,305.27 L482.99,306.15 L483.45,307.04 L483.90,307.93 L484.35,308.83 L484.80,309.72 L485.24,310.62 L485.69,311.51 L486.12,312.41 L486.56,313.31 L486.99,314.22 L487.41,315.12 L487.83,316.03 L488.25,316.94 L488.67,317.85 L489.08,318.76 L489.49,319.67 L489.89,320.58 L490.30,321.50 L490.69,322.42 L491.09,323.33 L491.49,324.25 L491.88,325.17 L492.27,326.09 L492.65,327.02 L493.04,327.94 L493.42,328.87 L493.80,329.79 L494.17,330.72 L494.54,331.65 L494.91,332.58 L495.27,333.51 L495.64,334.44 L495.99,335.37 L496.35,336.31 L496.70,337.25 L497.05,338.18 L497.39,339.12 L497.74,340.06 L498.08,341.00 L498.42,341.94 L498.75,342.88 L499.08,343.83 L499.41,344.77 L499.74,345.72 L500.06,346.66 L500.38,347.61 L500.70,348.56 L501.01,349.51 L501.32,350.46 L501.62,351.41 L501.92,352.37 L502.21,353.32 L502.50,354.28 L502.78,355.24 L503.06,356.20 L503.33,357.16 L503.60,358.13 L503.85,359.09 L504.10,360.06 L504.35,361.03 L504.59,362.00 L504.83,362.97 L505.06,363.94 L505.29,364.92 L505.53,365.89 L505.76,366.86 L505.99,367.83 L506.23,368.81 L506.47,369.78 L506.71,370.75 L506.96,371.72 L507.21,372.68 L507.46,373.65 L507.72,374.62 L507.99,375.58 L508.26,376.54 L508.53,377.51 L508.80,378.47 L509.08,379.43 L509.36,380.39 L509.64,381.35 L509.92,382.31 L510.20,383.27 L510.48,384.23 L510.77,385.19 L511.06,386.14 L511.34,387.10 L511.63,388.06 L511.91,389.02 L512.20,389.98 L512.49,390.93 L512.77,391.89 L513.06,392.85 L513.35,393.81 L513.64,394.77 L513.92,395.72 L514.21,396.68 L514.50,397.64 L514.79,398.59 L515.09,399.55 L515.38,400.51 L515.68,401.46 L515.97,402.42 L516.28,403.37 L516.58,404.32 L516.88,405.27 L517.19,406.23 L517.50,407.18 L517.82,408.13 L518.14,409.07 L518.45,410.02 L518.78,410.97 L519.10,411.91 L519.43,412.86 L519.76,413.80 L520.09,414.75 L520.42,415.69 L520.76,416.63 L521.10,417.57 L521.44,418.51 L521.79,419.45 L522.14,420.39 L522.49,421.32 L522.84,422.26 L523.19,423.19 L523.55,424.13 L523.91,425.06 L524.26,426.00 L524.62,426.93 L524.98,427.86 L525.34,428.80 L525.70,429.73 L526.07,430.66 L526.44,431.59 L526.82,432.51 L527.22,433.43 L527.62,434.34 L528.04,435.25 L528.47,436.15 L528.92,437.04 L529.39,437.93 L529.87,438.80 L530.38,439.66 L530.90,440.51 L531.44,441.35 L532.00,442.18 L532.59,442.98 L533.20,443.76 L533.85,444.51 L534.54,445.23 L535.25,445.91 L536.01,446.56 L536.79,447.17 L537.60,447.75 L538.43,448.29 L539.29,448.79 L540.17,449.25 L541.07,449.67 L541.99,450.04 L542.93,450.36 L543.88,450.64 L544.85,450.87 L545.82,451.08 L546.80,451.26 L547.79,451.43 L548.78,451.58 L549.77,451.72 L550.76,451.85 L551.75,451.99 L552.74,452.13 L553.73,452.27 L554.72,452.42 L555.71,452.57 L556.69,452.73 L557.68,452.89 L558.67,453.05 L559.65,453.22 L560.64,453.39 L561.62,453.56 L562.60,453.75 L563.58,453.94 L564.56,454.15 L565.54,454.37 L566.51,454.61 L567.47,454.86 L568.44,455.13 L569.39,455.42 L570.35,455.72 L571.29,456.04 L572.23,456.38 L573.17,456.73 L574.10,457.09 L575.02,457.47 L575.94,457.87 L576.85,458.28 L577.75,458.71 L578.64,459.16 L579.53,459.62 L580.40,460.11 L581.26,460.62 L582.11,461.14 L582.95,461.68 L583.78,462.23 L584.61,462.79 L585.44,463.36 L586.26,463.93 L587.07,464.51 L587.88,465.09 L588.69,465.68 L589.49,466.28 L590.29,466.88 L591.08,467.49 L591.86,468.09 L592.63,468.69 L593.38,469.28 L594.12,469.85 L594.84,470.42 L595.20,470.70" fill="none" stroke="#0a6bc0" stroke-width="5.7" stroke-linejoin="round" stroke-linecap="round"/>
<path d="M129.50,279.00 L129.58,280.00 L129.65,280.99 L129.73,281.99 L129.80,282.99 L129.88,283.99 L129.96,284.98 L130.03,285.98 L130.11,286.98 L130.18,287.97 L130.26,288.97 L130.33,289.97 L130.40,290.97 L130.47,291.96 L130.54,292.96 L130.61,293.96 L130.67,294.96 L130.74,295.95 L130.80,296.95 L130.85,297.95 L130.91,298.95 L130.97,299.95 L131.02,300.95 L131.07,301.95 L131.13,302.94 L131.18,303.94 L131.23,304.94 L131.29,305.94 L131.34,306.94 L131.39,307.94 L131.45,308.93 L131.51,309.93 L131.57,310.93 L131.64,311.93 L131.71,312.93 L131.79,313.92 L131.87,314.92 L131.96,315.91 L132.07,316.91 L132.18,317.90 L132.30,318.90 L132.42,319.89 L132.55,320.88 L132.69,321.87 L132.83,322.86 L132.98,323.85 L133.14,324.83 L133.32,325.81 L133.52,326.79 L133.75,327.74 L134.04,328.66 L134.41,329.53 L134.87,330.33 L135.45,331.03 L136.13,331.62 L136.91,332.09 L137.78,332.45 L138.69,332.70 L139.64,332.84 L140.61,332.89 L141.58,332.84 L142.55,332.71 L143.51,332.50 L144.45,332.22 L145.39,331.90 L146.31,331.53 L147.23,331.13 L148.14,330.71 L149.04,330.29 L149.94,329.85 L150.84,329.41 L151.73,328.96 L152.62,328.50 L153.50,328.03 L154.37,327.54 L155.23,327.04 L156.09,326.53 L156.95,326.01 L157.80,325.48 L158.64,324.95 L159.48,324.41 L160.32,323.87 L161.17,323.33 L162.01,322.79 L162.85,322.25 L163.70,321.72 L164.55,321.19 L165.40,320.67 L166.25,320.14 L167.10,319.62 L167.95,319.09 L168.80,318.57 L169.66,318.05 L170.51,317.52 L171.36,317.00 L172.21,316.48 L173.07,315.96 L173.92,315.44 L174.78,314.92 L175.64,314.41 L176.50,313.91 L177.37,313.41 L178.24,312.92 L179.11,312.43 L179.99,311.95 L180.87,311.47 L181.75,311.00 L182.63,310.53 L183.52,310.07 L184.41,309.61 L185.30,309.15 L186.19,308.70 L187.08,308.25 L187.98,307.81 L188.88,307.37 L189.78,306.93 L190.68,306.50 L191.58,306.06 L192.48,305.63 L193.38,305.21 L194.29,304.78 L195.19,304.36 L196.10,303.93 L197.01,303.51 L197.92,303.10 L198.83,302.68 L199.74,302.27 L200.65,301.86 L201.56,301.46 L202.48,301.06 L203.40,300.66 L204.32,300.28 L205.25,299.90 L206.18,299.52 L207.11,299.16 L208.04,298.79 L208.97,298.43 L209.90,298.07 L210.84,297.71 L211.77,297.36 L212.70,297.00 L213.64,296.66 L214.58,296.32 L215.53,295.99 L216.48,295.68 L217.43,295.38 L218.39,295.11 L219.36,294.86 L220.33,294.64 L221.31,294.45 L222.29,294.28 L223.28,294.13 L224.27,293.99 L225.26,293.88 L226.25,293.77 L227.25,293.67 L228.25,293.58 L229.24,293.50 L230.24,293.42 L231.24,293.34 L232.23,293.28 L233.23,293.21 L234.23,293.15 L235.23,293.10 L236.23,293.04 L237.23,292.99 L238.22,292.95 L239.22,292.90 L240.22,292.85 L241.22,292.81 L242.22,292.77 L243.22,292.73 L244.22,292.70 L245.22,292.67 L246.22,292.65 L247.22,292.63 L248.22,292.62 L249.22,292.61 L250.22,292.61 L251.22,292.60 L252.22,292.60 L253.22,292.60 L254.22,292.60 L255.22,292.60 L256.22,292.60 L257.22,292.60 L258.22,292.60 L259.22,292.61 L260.22,292.61 L261.22,292.62 L262.22,292.64 L263.22,292.66 L264.22,292.69 L265.21,292.73 L266.21,292.78 L267.21,292.83 L268.21,292.89 L269.21,292.95 L270.21,293.02 L271.20,293.08 L272.20,293.15 L273.20,293.21 L274.20,293.28 L275.19,293.35 L276.19,293.42 L277.19,293.50 L278.19,293.58 L279.18,293.66 L280.18,293.74 L281.18,293.83 L282.17,293.92 L283.17,294.02 L284.16,294.12 L285.16,294.22 L286.15,294.33 L287.14,294.46 L288.13,294.59 L289.12,294.74 L290.10,294.90 L291.08,295.09 L292.06,295.30 L293.03,295.55 L293.99,295.81 L294.94,296.11 L295.89,296.43 L296.83,296.76 L297.77,297.11 L298.70,297.47 L299.63,297.83 L300.56,298.19 L301.49,298.56 L302.42,298.92 L303.36,299.28 L304.29,299.63 L305.23,299.98 L306.17,300.33 L307.11,300.68 L308.04,301.03 L308.97,301.39 L309.90,301.75 L310.83,302.13 L311.75,302.52 L312.67,302.92 L313.57,303.33 L314.47,303.77 L315.36,304.23 L316.24,304.70 L317.11,305.20 L317.96,305.71 L318.81,306.24 L319.64,306.79 L320.47,307.35 L321.29,307.92 L322.11,308.49 L322.93,309.07 L323.74,309.65 L324.55,310.23 L325.37,310.81 L326.19,311.38 L327.01,311.95 L327.84,312.51 L328.67,313.07 L329.50,313.63 L330.33,314.18 L331.16,314.74 L331.99,315.30 L332.82,315.87 L333.63,316.44 L334.44,317.03 L335.24,317.63 L336.02,318.25 L336.79,318.88 L337.55,319.53 L338.29,320.20 L339.01,320.89 L339.71,321.60 L340.40,322.33 L341.07,323.07 L341.73,323.82 L342.37,324.58 L343.00,325.36 L343.63,326.14 L344.24,326.93 L344.85,327.72 L345.46,328.51 L346.06,329.31 L346.66,330.11 L347.25,330.92 L347.84,331.73 L348.42,332.54 L348.99,333.36 L349.56,334.18 L350.12,335.01 L350.68,335.84 L351.23,336.68 L351.78,337.51 L352.32,338.35 L352.86,339.19 L353.40,340.04 L353.93,340.88 L354.46,341.73 L354.99,342.58 L355.51,343.43 L356.03,344.29 L356.54,345.15 L357.04,346.01 L357.55,346.88 L358.04,347.74 L358.54,348.61 L359.04,349.48 L359.53,350.35 L360.03,351.22 L360.53,352.08 L361.03,352.95 L361.54,353.81 L362.05,354.67 L362.57,355.52 L363.10,356.37 L363.64,357.21 L364.19,358.05 L364.74,358.88 L365.30,359.70 L365.87,360.53 L366.44,361.35 L367.00,362.18 L367.56,363.00 L368.12,363.84 L368.66,364.68 L369.19,365.52 L369.70,366.38 L370.20,367.25 L370.68,368.12 L371.15,369.00 L371.61,369.89 L372.06,370.78 L372.50,371.68 L372.94,372.58 L373.37,373.48 L373.80,374.38 L374.23,375.29 L374.67,376.19 L375.11,377.09 L375.55,377.98 L376.00,378.87 L376.46,379.76 L376.92,380.65 L377.39,381.53 L377.86,382.42 L378.34,383.29 L378.82,384.17 L379.31,385.04 L379.80,385.91 L380.30,386.78 L380.80,387.64 L381.32,388.50 L381.84,389.35 L382.36,390.21 L382.89,391.05 L383.42,391.90 L383.96,392.74 L384.50,393.58 L385.05,394.42 L385.60,395.25 L386.16,396.08 L386.73,396.91 L387.30,397.72 L387.89,398.53 L388.49,399.33 L389.10,400.12 L389.72,400.90 L390.36,401.67 L391.01,402.43 L391.67,403.18 L392.34,403.92 L393.03,404.65 L393.72,405.37 L394.42,406.08 L395.13,406.79 L395.85,407.48 L396.58,408.16 L397.32,408.83 L398.08,409.48 L398.85,410.11 L399.64,410.72 L400.45,411.31 L401.27,411.86 L402.11,412.40 L402.97,412.91 L403.85,413.39 L404.73,413.85 L405.63,414.29 L406.53,414.72 L407.44,415.12 L408.36,415.51 L409.29,415.88 L410.22,416.24 L411.16,416.58 L412.11,416.90 L413.06,417.21 L414.01,417.50 L414.97,417.78 L415.94,418.05 L416.91,418.30 L417.88,418.54 L418.85,418.77 L419.82,418.99 L420.80,419.20 L421.78,419.40 L422.76,419.59 L423.74,419.77 L424.73,419.95 L425.71,420.12 L426.70,420.29 L427.69,420.45 L428.67,420.61 L429.66,420.76 L430.65,420.90 L431.64,421.03 L432.63,421.16 L433.63,421.29 L434.62,421.41 L435.61,421.52 L436.61,421.64 L437.60,421.75 L438.59,421.87 L439.59,421.98 L440.58,422.10 L441.57,422.22 L442.56,422.34 L443.56,422.47 L444.55,422.61 L445.54,422.75 L446.52,422.90 L447.51,423.07 L448.49,423.24 L449.48,423.43 L450.46,423.62 L451.44,423.83 L452.41,424.04 L453.39,424.27 L454.36,424.50 L455.33,424.75 L456.29,425.00 L457.26,425.26 L458.22,425.53 L459.18,425.81 L460.14,426.10 L461.09,426.40 L462.04,426.71 L462.99,427.03 L463.93,427.36 L464.87,427.70 L465.80,428.06 L466.73,428.43 L467.66,428.80 L468.58,429.19 L469.50,429.58 L470.42,429.98 L471.33,430.39 L472.24,430.80 L473.15,431.22 L474.05,431.65 L474.95,432.09 L475.85,432.54 L476.74,432.99 L477.62,433.46 L478.50,433.93 L479.38,434.41 L480.25,434.90 L481.12,435.39 L481.99,435.88 L482.86,436.38 L483.73,436.88 L484.59,437.38 L485.46,437.88 L486.32,438.38 L487.19,438.88 L488.05,439.38 L488.92,439.88 L489.78,440.38 L490.65,440.89 L491.51,441.39 L492.37,441.90 L493.23,442.41 L494.09,442.93 L494.95,443.44 L495.80,443.96 L496.65,444.49 L497.50,445.02 L498.35,445.55 L499.19,446.09 L500.03,446.63 L500.87,447.17 L501.71,447.72 L502.54,448.27 L503.37,448.83 L504.20,449.39 L505.03,449.95 L505.85,450.52 L506.67,451.09 L507.48,451.67 L508.30,452.25 L509.10,452.84 L509.90,453.44 L510.70,454.05 L511.49,454.66 L512.28,455.27 L513.06,455.90 L513.83,456.53 L514.60,457.17 L515.36,457.82 L516.11,458.48 L516.86,459.14 L517.59,459.83 L518.31,460.52 L519.01,461.23 L519.69,461.95 L520.36,462.70 L521.01,463.46 L521.63,464.23 L522.24,465.02 L522.84,465.81 L523.41,466.61 L523.98,467.40 L524.53,468.18 L525.07,468.94 L525.60,469.70" fill="none" stroke="#7050a6" stroke-width="5.7" stroke-linejoin="round" stroke-linecap="round"/>
<path d="M129.20,308.00 L129.21,309.00 L129.22,310.00 L129.23,311.00 L129.25,312.00 L129.26,313.00 L129.27,314.00 L129.28,315.00 L129.29,316.00 L129.30,317.00 L129.31,318.00 L129.32,319.00 L129.33,320.00 L129.34,321.00 L129.35,322.00 L129.36,323.00 L129.38,324.00 L129.39,325.00 L129.40,326.00 L129.41,327.00 L129.42,328.00 L129.43,329.00 L129.44,330.00 L129.45,331.00 L129.46,332.00 L129.47,333.00 L129.48,334.00 L129.50,335.00 L129.51,336.00 L129.52,337.00 L129.53,338.00 L129.54,339.00 L129.55,340.00 L129.57,341.00 L129.58,342.00 L129.59,343.00 L129.60,344.00 L129.62,345.00 L129.63,346.00 L129.64,347.00 L129.66,348.00 L129.67,349.00 L129.69,350.00 L129.70,351.00 L129.72,352.00 L129.73,353.00 L129.75,354.00 L129.76,355.00 L129.78,356.00 L129.79,357.00 L129.81,358.00 L129.83,359.00 L129.84,360.00 L129.86,361.00 L129.87,362.00 L129.89,363.00 L129.91,364.00 L129.92,365.00 L129.94,366.00 L129.96,367.00 L129.97,367.99 L129.99,368.99 L130.01,369.99 L130.02,370.99 L130.04,371.99 L130.06,372.99 L130.07,373.99 L130.09,374.99 L130.11,375.99 L130.13,376.99 L130.15,377.99 L130.17,378.99 L130.19,379.99 L130.21,380.99 L130.23,381.99 L130.25,382.99 L130.27,383.99 L130.29,384.99 L130.32,385.99 L130.35,386.99 L130.37,387.99 L130.40,388.99 L130.44,389.99 L130.48,390.99 L130.52,391.99 L130.58,392.99 L130.64,393.98 L130.71,394.98 L130.79,395.98 L130.88,396.97 L130.97,397.97 L131.07,398.96 L131.18,399.96 L131.29,400.95 L131.40,401.94 L131.53,402.94 L131.67,403.93 L131.82,404.91 L131.99,405.89 L132.20,406.86 L132.45,407.80 L132.77,408.70 L133.18,409.54 L133.70,410.29 L134.33,410.92 L135.06,411.41 L135.86,411.74 L136.71,411.91 L137.58,411.89 L138.42,411.68 L139.22,411.31 L139.98,410.79 L140.69,410.16 L141.35,409.46 L141.99,408.71 L142.62,407.93 L143.24,407.15 L143.85,406.36 L144.46,405.57 L145.06,404.77 L145.66,403.97 L146.25,403.16 L146.83,402.35 L147.41,401.53 L147.98,400.71 L148.55,399.89 L149.12,399.07 L149.70,398.25 L150.27,397.43 L150.84,396.61 L151.42,395.79 L152.00,394.98 L152.57,394.16 L153.15,393.35 L153.73,392.53 L154.30,391.71 L154.88,390.89 L155.46,390.08 L156.03,389.26 L156.61,388.44 L157.18,387.62 L157.76,386.80 L158.33,385.99 L158.91,385.17 L159.49,384.35 L160.07,383.54 L160.65,382.72 L161.23,381.91 L161.81,381.10 L162.39,380.28 L162.98,379.47 L163.57,378.67 L164.16,377.86 L164.75,377.05 L165.34,376.24 L165.93,375.44 L166.52,374.63 L167.11,373.83 L167.71,373.02 L168.30,372.21 L168.89,371.41 L169.48,370.60 L170.08,369.80 L170.67,369.00 L171.27,368.19 L171.87,367.39 L172.47,366.60 L173.08,365.80 L173.69,365.01 L174.30,364.22 L174.92,363.43 L175.54,362.64 L176.16,361.87 L176.79,361.09 L177.43,360.32 L178.08,359.56 L178.73,358.80 L179.38,358.04 L180.04,357.29 L180.71,356.54 L181.38,355.80 L182.05,355.06 L182.73,354.33 L183.41,353.59 L184.09,352.86 L184.78,352.14 L185.48,351.42 L186.18,350.71 L186.88,350.00 L187.59,349.29 L188.31,348.59 L189.03,347.90 L189.76,347.22 L190.49,346.54 L191.23,345.87 L191.98,345.21 L192.74,344.56 L193.51,343.91 L194.27,343.27 L195.05,342.64 L195.83,342.01 L196.61,341.39 L197.40,340.77 L198.19,340.16 L198.98,339.56 L199.79,338.96 L200.60,338.38 L201.41,337.80 L202.24,337.24 L203.07,336.69 L203.91,336.15 L204.77,335.63 L205.63,335.13 L206.50,334.64 L207.39,334.18 L208.28,333.73 L209.18,333.29 L210.08,332.88 L211.00,332.47 L211.92,332.08 L212.84,331.69 L213.77,331.32 L214.70,330.97 L215.64,330.62 L216.58,330.29 L217.53,329.98 L218.48,329.68 L219.44,329.39 L220.41,329.13 L221.37,328.88 L222.34,328.64 L223.32,328.42 L224.30,328.22 L225.28,328.03 L226.26,327.85 L227.25,327.67 L228.23,327.51 L229.22,327.35 L230.21,327.20 L231.20,327.05 L232.19,326.91 L233.18,326.76 L234.16,326.62 L235.15,326.47 L236.14,326.32 L237.13,326.16 L238.12,326.00 L239.10,325.84 L240.09,325.68 L241.08,325.51 L242.06,325.35 L243.05,325.19 L244.04,325.04 L245.03,324.89 L246.02,324.76 L247.01,324.64 L248.00,324.53 L249.00,324.43 L249.99,324.35 L250.99,324.27 L251.99,324.19 L252.99,324.13 L253.98,324.06 L254.98,324.01 L255.98,323.96 L256.98,323.91 L257.98,323.88 L258.98,323.85 L259.98,323.83 L260.98,323.82 L261.98,323.81 L262.98,323.80 L263.98,323.80 L264.98,323.80 L265.98,323.80 L266.98,323.80 L267.98,323.80 L268.98,323.80 L269.98,323.81 L270.98,323.82 L271.98,323.84 L272.97,323.87 L273.97,323.92 L274.97,323.99 L275.96,324.08 L276.95,324.19 L277.95,324.31 L278.94,324.44 L279.93,324.57 L280.92,324.70 L281.91,324.84 L282.90,324.97 L283.89,325.11 L284.88,325.26 L285.87,325.42 L286.85,325.60 L287.82,325.82 L288.79,326.06 L289.74,326.34 L290.69,326.65 L291.62,326.99 L292.55,327.36 L293.47,327.74 L294.39,328.13 L295.31,328.52 L296.23,328.91 L297.16,329.29 L298.08,329.67 L299.01,330.05 L299.94,330.42 L300.87,330.79 L301.79,331.17 L302.72,331.55 L303.64,331.94 L304.55,332.34 L305.47,332.74 L306.38,333.16 L307.28,333.58 L308.19,334.01 L309.09,334.45 L309.98,334.89 L310.87,335.35 L311.76,335.81 L312.64,336.28 L313.52,336.75 L314.39,337.24 L315.26,337.73 L316.13,338.23 L316.99,338.74 L317.84,339.26 L318.70,339.78 L319.55,340.31 L320.39,340.84 L321.23,341.38 L322.07,341.92 L322.91,342.47 L323.74,343.02 L324.57,343.58 L325.40,344.15 L326.22,344.72 L327.03,345.30 L327.84,345.89 L328.64,346.48 L329.44,347.09 L330.22,347.71 L331.00,348.33 L331.77,348.97 L332.53,349.62 L333.29,350.27 L334.04,350.94 L334.77,351.61 L335.50,352.29 L336.23,352.99 L336.94,353.68 L337.65,354.39 L338.34,355.11 L339.03,355.84 L339.70,356.58 L340.37,357.32 L341.02,358.08 L341.67,358.84 L342.31,359.60 L342.95,360.37 L343.58,361.15 L344.21,361.92 L344.84,362.70 L345.47,363.48 L346.09,364.26 L346.72,365.05 L347.34,365.83 L347.96,366.61 L348.58,367.39 L349.20,368.18 L349.82,368.96 L350.43,369.75 L351.04,370.55 L351.65,371.34 L352.26,372.14 L352.86,372.94 L353.45,373.74 L354.05,374.54 L354.63,375.35 L355.22,376.16 L355.80,376.98 L356.38,377.79 L356.96,378.61 L357.53,379.43 L358.10,380.25 L358.66,381.08 L359.22,381.91 L359.77,382.74 L360.32,383.57 L360.86,384.42 L361.39,385.26 L361.92,386.11 L362.44,386.97 L362.94,387.83 L363.44,388.70 L363.93,389.57 L364.40,390.45 L364.87,391.33 L365.33,392.22 L365.78,393.11 L366.22,394.01 L366.66,394.91 L367.10,395.81 L367.53,396.71 L367.97,397.61 L368.40,398.51 L368.83,399.42 L369.26,400.32 L369.69,401.22 L370.13,402.12 L370.57,403.01 L371.01,403.91 L371.46,404.81 L371.91,405.70 L372.36,406.59 L372.81,407.49 L373.26,408.38 L373.71,409.27 L374.16,410.16 L374.61,411.06 L375.06,411.95 L375.52,412.84 L375.97,413.73 L376.43,414.62 L376.89,415.51 L377.35,416.40 L377.81,417.28 L378.29,418.16 L378.76,419.04 L379.24,419.92 L379.73,420.79 L380.23,421.66 L380.73,422.52 L381.25,423.38 L381.77,424.23 L382.30,425.08 L382.83,425.92 L383.38,426.76 L383.92,427.60 L384.48,428.43 L385.04,429.26 L385.61,430.08 L386.18,430.90 L386.76,431.72 L387.35,432.53 L387.94,433.33 L388.55,434.12 L389.16,434.91 L389.78,435.69 L390.42,436.47 L391.06,437.23 L391.71,437.99 L392.37,438.74 L393.04,439.48 L393.71,440.22 L394.39,440.96 L395.08,441.69 L395.76,442.41 L396.46,443.13 L397.16,443.84 L397.87,444.55 L398.59,445.24 L399.32,445.92 L400.07,446.58 L400.83,447.22 L401.62,447.84 L402.42,448.43 L403.24,449.00 L404.08,449.53 L404.94,450.03 L405.82,450.49 L406.71,450.93 L407.62,451.35 L408.54,451.74 L409.47,452.12 L410.40,452.47 L411.34,452.82 L412.28,453.14 L413.23,453.45 L414.19,453.75 L415.14,454.04 L416.11,454.31 L417.07,454.57 L418.04,454.82 L419.01,455.05 L419.98,455.28 L420.96,455.50 L421.94,455.71 L422.92,455.90 L423.90,456.09 L424.88,456.26 L425.87,456.43 L426.86,456.59 L427.84,456.75 L428.83,456.90 L429.82,457.05 L430.81,457.20 L431.80,457.36 L432.78,457.52 L433.77,457.68 L434.76,457.85 L435.74,458.02 L436.72,458.20 L437.71,458.39 L438.69,458.58 L439.67,458.78 L440.65,458.99 L441.62,459.20 L442.60,459.41 L443.58,459.62 L444.55,459.84 L445.53,460.06 L446.50,460.28 L447.48,460.51 L448.45,460.73 L449.43,460.96 L450.40,461.19 L451.37,461.42 L452.35,461.65 L453.32,461.88 L454.29,462.12 L455.26,462.37 L456.23,462.62 L457.19,462.87 L458.16,463.14 L459.12,463.41 L460.08,463.69 L461.04,463.98 L461.99,464.27 L462.94,464.58 L463.89,464.90 L464.83,465.23 L465.77,465.57 L466.71,465.92 L467.64,466.27 L468.57,466.64 L469.50,467.02 L470.42,467.41 L471.33,467.82 L472.23,468.23 L473.11,468.65 L473.97,469.07 L474.80,469.49 L475.61,469.90 L476.40,470.30" fill="none" stroke="#ee8a20" stroke-width="5.7" stroke-linejoin="round" stroke-linecap="round"/>
<polygon points="187.8,156 191.3,152.5 238.3,152.5 241.8,156 238.3,159.5 191.3,159.5" fill="#6aab3c"/>
<text x="249.6" y="163.5" class="leg">60°C</text>
<polygon points="333.5,156 337.0,152.5 384.5,152.5 388.0,156 384.5,159.5 337.0,159.5" fill="#e3b91e"/>
<text x="392.7" y="163.5" class="leg">25°C</text>
<polygon points="479.0,156 482.5,152.5 529.5,152.5 533.0,156 529.5,159.5 482.5,159.5" fill="#0a6bc0"/>
<text x="542" y="163.5" class="leg">0°C</text>
<polygon points="187.8,190.5 191.3,187.0 238.3,187.0 241.8,190.5 238.3,194.0 191.3,194.0" fill="#7050a6"/>
<text x="249.6" y="198" class="leg">-20°C</text>
<polygon points="333.5,190.5 337.0,187.0 384.5,187.0 388.0,190.5 384.5,194.0 337.0,194.0" fill="#ee8a20"/>
<text x="392.7" y="198" class="leg">-30°C</text>
<line x1="914.8" y1="133.9" x2="914.8" y2="466.3" stroke="#d9d9d9" stroke-width="2"/>
<line x1="1013.2" y1="133.9" x2="1013.2" y2="466.3" stroke="#d9d9d9" stroke-width="2"/>
<line x1="1111.6" y1="133.9" x2="1111.6" y2="466.3" stroke="#d9d9d9" stroke-width="2"/>
<line x1="1210.0" y1="133.9" x2="1210.0" y2="466.3" stroke="#d9d9d9" stroke-width="2"/>
<line x1="1308.4" y1="133.9" x2="1308.4" y2="466.3" stroke="#d9d9d9" stroke-width="2"/>
<line x1="1406.8" y1="133.9" x2="1406.8" y2="466.3" stroke="#d9d9d9" stroke-width="2"/>
<line x1="1505.2" y1="133.9" x2="1505.2" y2="466.3" stroke="#d9d9d9" stroke-width="2"/>
<line x1="914.8" y1="466.3" x2="1505.2" y2="466.3" stroke="#d9d9d9" stroke-width="2"/>
<line x1="914.8" y1="399.8" x2="1505.2" y2="399.8" stroke="#d9d9d9" stroke-width="2"/>
<line x1="914.8" y1="333.3" x2="1505.2" y2="333.3" stroke="#d9d9d9" stroke-width="2"/>
<line x1="914.8" y1="266.9" x2="1505.2" y2="266.9" stroke="#d9d9d9" stroke-width="2"/>
<line x1="914.8" y1="200.4" x2="1505.2" y2="200.4" stroke="#d9d9d9" stroke-width="2"/>
<line x1="914.8" y1="133.9" x2="1505.2" y2="133.9" stroke="#d9d9d9" stroke-width="2"/>
<text x="903" y="473.0" class="ry" text-anchor="end">10.00</text>
<text x="903" y="406.5" class="ry" text-anchor="end">11.00</text>
<text x="903" y="340.0" class="ry" text-anchor="end">12.00</text>
<text x="903" y="273.6" class="ry" text-anchor="end">13.00</text>
<text x="903" y="207.1" class="ry" text-anchor="end">14.00</text>
<text x="903" y="140.6" class="ry" text-anchor="end">15.00</text>
<text x="918.3" y="495" class="rxl" text-anchor="middle">0%</text>
<text x="1021.4" y="495" class="rxl" text-anchor="middle">20%</text>
<text x="1117.3" y="495" class="rxl" text-anchor="middle">40%</text>
<text x="1216.3" y="495" class="rxl" text-anchor="middle">60%</text>
<text x="1313.9" y="495" class="rxl" text-anchor="middle">80%</text>
<text x="1413.5" y="495" class="rxl" text-anchor="middle">100%</text>
<text x="1511.2" y="495" class="rxl" text-anchor="middle">120%</text>
<text x="1214.6" y="517.6" class="cap" text-anchor="middle">Capacity</text>
<text transform="translate(847.3,300.4) rotate(-90)" class="volt" text-anchor="middle">Voltage(V)</text>
<path d="M915.20,188.50 L915.21,189.50 L915.21,190.50 L915.22,191.50 L915.23,192.50 L915.23,193.50 L915.24,194.50 L915.25,195.50 L915.25,196.50 L915.26,197.50 L915.26,198.50 L915.27,199.50 L915.28,200.50 L915.28,201.50 L915.29,202.50 L915.29,203.50 L915.30,204.50 L915.30,205.50 L915.31,206.50 L915.32,207.50 L915.32,208.50 L915.33,209.50 L915.33,210.50 L915.34,211.50 L915.35,212.50 L915.35,213.50 L915.36,214.50 L915.36,215.50 L915.37,216.50 L915.38,217.50 L915.38,218.50 L915.39,219.50 L915.40,220.50 L915.40,221.50 L915.41,222.50 L915.42,223.50 L915.43,224.50 L915.44,225.50 L915.45,226.50 L915.46,227.50 L915.47,228.50 L915.49,229.50 L915.52,230.50 L915.55,231.50 L915.59,232.50 L915.63,233.50 L915.67,234.50 L915.71,235.49 L915.75,236.49 L915.80,237.49 L915.85,238.49 L915.90,239.49 L915.96,240.49 L916.02,241.49 L916.09,242.48 L916.16,243.48 L916.24,244.48 L916.34,245.47 L916.45,246.47 L916.57,247.46 L916.73,248.45 L916.90,249.43 L917.10,250.41 L917.31,251.39 L917.55,252.36 L917.82,253.32 L918.15,254.26 L918.56,255.14 L919.13,255.92 L919.86,256.53 L920.71,256.99 L921.64,257.32 L922.61,257.55 L923.59,257.70 L924.59,257.81 L925.58,257.90 L926.58,257.98 L927.58,258.06 L928.57,258.14 L929.57,258.21 L930.57,258.29 L931.56,258.36 L932.56,258.42 L933.56,258.49 L934.56,258.56 L935.56,258.62 L936.55,258.68 L937.55,258.74 L938.55,258.79 L939.55,258.85 L940.55,258.90 L941.55,258.95 L942.54,259.00 L943.54,259.05 L944.54,259.09 L945.54,259.14 L946.54,259.18 L947.54,259.22 L948.54,259.26 L949.54,259.30 L950.54,259.34 L951.54,259.37 L952.54,259.41 L953.54,259.44 L954.54,259.47 L955.53,259.50 L956.53,259.53 L957.53,259.56 L958.53,259.59 L959.53,259.62 L960.53,259.64 L961.53,259.67 L962.53,259.69 L963.53,259.72 L964.53,259.74 L965.53,259.76 L966.53,259.79 L967.53,259.81 L968.53,259.83 L969.53,259.85 L970.53,259.87 L971.53,259.89 L972.53,259.91 L973.53,259.93 L974.53,259.95 L975.53,259.97 L976.53,259.99 L977.53,260.01 L978.53,260.03 L979.53,260.05 L980.53,260.07 L981.53,260.09 L982.53,260.11 L983.53,260.13 L984.53,260.15 L985.53,260.17 L986.53,260.19 L987.53,260.21 L988.53,260.23 L989.53,260.26 L990.53,260.28 L991.53,260.31 L992.53,260.33 L993.53,260.36 L994.52,260.38 L995.52,260.41 L996.52,260.44 L997.52,260.47 L998.52,260.50 L999.52,260.53 L1000.52,260.56 L1001.52,260.60 L1002.52,260.63 L1003.52,260.67 L1004.52,260.71 L1005.52,260.75 L1006.52,260.79 L1007.52,260.83 L1008.52,260.87 L1009.52,260.92 L1010.51,260.96 L1011.51,261.01 L1012.51,261.06 L1013.51,261.11 L1014.51,261.17 L1015.51,261.22 L1016.51,261.28 L1017.50,261.33 L1018.50,261.39 L1019.50,261.45 L1020.50,261.52 L1021.50,261.58 L1022.49,261.64 L1023.49,261.71 L1024.49,261.78 L1025.49,261.85 L1026.49,261.92 L1027.48,261.99 L1028.48,262.06 L1029.48,262.13 L1030.47,262.20 L1031.47,262.28 L1032.47,262.35 L1033.47,262.43 L1034.46,262.51 L1035.46,262.59 L1036.46,262.66 L1037.45,262.74 L1038.45,262.82 L1039.45,262.90 L1040.44,262.99 L1041.44,263.07 L1042.44,263.15 L1043.43,263.23 L1044.43,263.31 L1045.43,263.40 L1046.42,263.48 L1047.42,263.57 L1048.42,263.65 L1049.41,263.73 L1050.41,263.82 L1051.41,263.90 L1052.40,263.99 L1053.40,264.07 L1054.40,264.16 L1055.39,264.24 L1056.39,264.33 L1057.38,264.41 L1058.38,264.50 L1059.38,264.58 L1060.37,264.66 L1061.37,264.75 L1062.37,264.83 L1063.36,264.92 L1064.36,265.00 L1065.36,265.09 L1066.35,265.18 L1067.35,265.27 L1068.34,265.36 L1069.34,265.45 L1070.34,265.54 L1071.33,265.63 L1072.33,265.73 L1073.32,265.82 L1074.32,265.92 L1075.31,266.02 L1076.31,266.11 L1077.30,266.21 L1078.30,266.31 L1079.29,266.41 L1080.29,266.51 L1081.28,266.60 L1082.28,266.70 L1083.27,266.80 L1084.27,266.90 L1085.26,267.00 L1086.26,267.10 L1087.25,267.20 L1088.25,267.30 L1089.24,267.40 L1090.24,267.49 L1091.23,267.59 L1092.23,267.69 L1093.23,267.79 L1094.22,267.88 L1095.22,267.98 L1096.21,268.07 L1097.21,268.17 L1098.20,268.26 L1099.20,268.35 L1100.19,268.45 L1101.19,268.54 L1102.19,268.63 L1103.18,268.71 L1104.18,268.80 L1105.17,268.89 L1106.17,268.97 L1107.17,269.06 L1108.16,269.14 L1109.16,269.22 L1110.16,269.30 L1111.15,269.37 L1112.15,269.45 L1113.15,269.52 L1114.15,269.60 L1115.14,269.67 L1116.14,269.74 L1117.14,269.81 L1118.14,269.88 L1119.13,269.94 L1120.13,270.01 L1121.13,270.08 L1122.13,270.14 L1123.13,270.21 L1124.12,270.27 L1125.12,270.34 L1126.12,270.40 L1127.12,270.46 L1128.12,270.53 L1129.11,270.59 L1130.11,270.65 L1131.11,270.71 L1132.11,270.77 L1133.11,270.84 L1134.10,270.90 L1135.10,270.96 L1136.10,271.02 L1137.10,271.09 L1138.10,271.15 L1139.09,271.21 L1140.09,271.27 L1141.09,271.34 L1142.09,271.40 L1143.09,271.46 L1144.08,271.53 L1145.08,271.59 L1146.08,271.65 L1147.08,271.71 L1148.08,271.77 L1149.07,271.83 L1150.07,271.89 L1151.07,271.95 L1152.07,272.01 L1153.07,272.07 L1154.07,272.13 L1155.06,272.19 L1156.06,272.25 L1157.06,272.31 L1158.06,272.37 L1159.06,272.43 L1160.06,272.49 L1161.05,272.55 L1162.05,272.60 L1163.05,272.66 L1164.05,272.72 L1165.05,272.78 L1166.05,272.84 L1167.04,272.90 L1168.04,272.95 L1169.04,273.01 L1170.04,273.07 L1171.04,273.13 L1172.03,273.19 L1173.03,273.24 L1174.03,273.30 L1175.03,273.36 L1176.03,273.42 L1177.03,273.48 L1178.02,273.54 L1179.02,273.60 L1180.02,273.66 L1181.02,273.71 L1182.02,273.77 L1183.02,273.83 L1184.01,273.89 L1185.01,273.95 L1186.01,274.01 L1187.01,274.08 L1188.01,274.14 L1189.00,274.20 L1190.00,274.26 L1191.00,274.32 L1192.00,274.38 L1193.00,274.45 L1194.00,274.51 L1194.99,274.57 L1195.99,274.64 L1196.99,274.70 L1197.99,274.77 L1198.98,274.83 L1199.98,274.90 L1200.98,274.96 L1201.98,275.03 L1202.98,275.10 L1203.97,275.16 L1204.97,275.23 L1205.97,275.30 L1206.97,275.37 L1207.96,275.44 L1208.96,275.51 L1209.96,275.58 L1210.96,275.65 L1211.95,275.73 L1212.95,275.80 L1213.95,275.87 L1214.95,275.94 L1215.94,276.01 L1216.94,276.09 L1217.94,276.16 L1218.94,276.23 L1219.93,276.31 L1220.93,276.38 L1221.93,276.45 L1222.92,276.53 L1223.92,276.60 L1224.92,276.68 L1225.92,276.75 L1226.91,276.83 L1227.91,276.91 L1228.91,276.98 L1229.90,277.06 L1230.90,277.14 L1231.90,277.22 L1232.89,277.30 L1233.89,277.38 L1234.89,277.46 L1235.88,277.55 L1236.88,277.63 L1237.88,277.71 L1238.87,277.80 L1239.87,277.89 L1240.87,277.97 L1241.86,278.06 L1242.86,278.15 L1243.85,278.24 L1244.85,278.33 L1245.85,278.43 L1246.84,278.52 L1247.84,278.62 L1248.83,278.72 L1249.83,278.81 L1250.82,278.91 L1251.82,279.01 L1252.81,279.12 L1253.81,279.22 L1254.80,279.33 L1255.79,279.43 L1256.79,279.54 L1257.78,279.65 L1258.78,279.76 L1259.77,279.88 L1260.76,279.99 L1261.76,280.11 L1262.75,280.23 L1263.74,280.35 L1264.74,280.47 L1265.73,280.59 L1266.72,280.71 L1267.71,280.84 L1268.70,280.97 L1269.70,281.10 L1270.69,281.23 L1271.68,281.36 L1272.67,281.49 L1273.66,281.63 L1274.65,281.77 L1275.64,281.91 L1276.63,282.05 L1277.62,282.19 L1278.61,282.34 L1279.60,282.48 L1280.59,282.63 L1281.58,282.78 L1282.56,282.93 L1283.55,283.09 L1284.54,283.24 L1285.53,283.40 L1286.52,283.56 L1287.50,283.72 L1288.49,283.88 L1289.48,284.04 L1290.46,284.21 L1291.45,284.38 L1292.43,284.55 L1293.42,284.72 L1294.40,284.89 L1295.39,285.06 L1296.37,285.24 L1297.36,285.42 L1298.34,285.60 L1299.32,285.78 L1300.31,285.97 L1301.29,286.15 L1302.27,286.34 L1303.25,286.53 L1304.23,286.72 L1305.22,286.92 L1306.20,287.11 L1307.18,287.31 L1308.16,287.51 L1309.14,287.71 L1310.11,287.92 L1311.09,288.14 L1312.06,288.37 L1313.03,288.60 L1314.00,288.84 L1314.97,289.09 L1315.94,289.35 L1316.90,289.62 L1317.87,289.89 L1318.83,290.16 L1319.79,290.44 L1320.75,290.73 L1321.70,291.02 L1322.66,291.31 L1323.61,291.61 L1324.57,291.91 L1325.52,292.21 L1326.47,292.51 L1327.43,292.82 L1328.38,293.12 L1329.33,293.43 L1330.28,293.73 L1331.24,294.04 L1332.19,294.34 L1333.14,294.65 L1334.09,294.95 L1335.05,295.25 L1336.00,295.54 L1336.96,295.84 L1337.92,296.13 L1338.88,296.41 L1339.84,296.69 L1340.80,296.97 L1341.76,297.24 L1342.72,297.50 L1343.69,297.76 L1344.66,298.01 L1345.63,298.25 L1346.60,298.49 L1347.57,298.72 L1348.55,298.94 L1349.52,299.16 L1350.50,299.37 L1351.48,299.58 L1352.46,299.79 L1353.44,299.99 L1354.42,300.19 L1355.39,300.40 L1356.37,300.60 L1357.35,300.81 L1358.33,301.01 L1359.31,301.22 L1360.28,301.44 L1361.26,301.66 L1362.23,301.89 L1363.21,302.12 L1364.18,302.36 L1365.15,302.61 L1366.11,302.86 L1367.08,303.13 L1368.04,303.41 L1368.99,303.69 L1369.95,303.99 L1370.90,304.30 L1371.85,304.61 L1372.80,304.93 L1373.74,305.26 L1374.68,305.61 L1375.61,305.97 L1376.54,306.35 L1377.45,306.74 L1378.36,307.16 L1379.26,307.61 L1380.14,308.07 L1381.01,308.56 L1381.87,309.08 L1382.70,309.63 L1383.51,310.22 L1384.27,310.85 L1385.00,311.54 L1385.68,312.27 L1386.32,313.03 L1386.94,313.81 L1387.54,314.62 L1388.11,315.43 L1388.68,316.26 L1389.22,317.10 L1389.76,317.94 L1390.28,318.79 L1390.78,319.66 L1391.26,320.54 L1391.72,321.42 L1392.17,322.32 L1392.60,323.22 L1393.01,324.13 L1393.42,325.05 L1393.81,325.96 L1394.20,326.89 L1394.58,327.81 L1394.95,328.74 L1395.32,329.67 L1395.68,330.60 L1396.04,331.54 L1396.39,332.47 L1396.74,333.41 L1397.08,334.35 L1397.41,335.29 L1397.74,336.24 L1398.05,337.19 L1398.37,338.14 L1398.67,339.09 L1398.97,340.04 L1399.26,341.00 L1399.54,341.96 L1399.82,342.92 L1400.09,343.88 L1400.36,344.84 L1400.62,345.81 L1400.88,346.78 L1401.13,347.74 L1401.38,348.71 L1401.62,349.68 L1401.86,350.66 L1402.09,351.63 L1402.32,352.60 L1402.54,353.58 L1402.76,354.55 L1402.97,355.53 L1403.17,356.51 L1403.37,357.49 L1403.57,358.47 L1403.76,359.45 L1403.94,360.43 L1404.12,361.42 L1404.29,362.40 L1404.46,363.39 L1404.63,364.37 L1404.79,365.36 L1404.94,366.35 L1405.09,367.34 L1405.23,368.33 L1405.36,369.32 L1405.49,370.31 L1405.61,371.30 L1405.72,372.30 L1405.84,373.29 L1405.95,374.29 L1406.06,375.28 L1406.16,376.27 L1406.27,377.27 L1406.38,378.26 L1406.48,379.26 L1406.59,380.25 L1406.70,381.25 L1406.80,382.24 L1406.91,383.23 L1407.02,384.23 L1407.13,385.22 L1407.24,386.21 L1407.36,387.21 L1407.47,388.20 L1407.59,389.20 L1407.70,390.19 L1407.81,391.18 L1407.93,392.18 L1408.04,393.17 L1408.15,394.16 L1408.27,395.16 L1408.38,396.15 L1408.50,397.14 L1408.62,398.14 L1408.74,399.13 L1408.87,400.12 L1409.00,401.11 L1409.13,402.10 L1409.27,403.09 L1409.42,404.08 L1409.58,405.07 L1409.74,406.06 L1409.91,407.04 L1410.08,408.03 L1410.26,409.01 L1410.44,409.99 L1410.63,410.98 L1410.82,411.96 L1411.00,412.94 L1411.19,413.92 L1411.37,414.91 L1411.55,415.89 L1411.74,416.87 L1411.92,417.86 L1412.12,418.84 L1412.32,419.82 L1412.52,420.79 L1412.73,421.77 L1412.92,422.75 L1413.11,423.74 L1413.28,424.72 L1413.44,425.71 L1413.58,426.70 L1413.72,427.69 L1413.84,428.68 L1413.95,429.67 L1414.05,430.67 L1414.14,431.67 L1414.21,432.66 L1414.27,433.66 L1414.33,434.66 L1414.39,435.66 L1414.44,436.66 L1414.49,437.66 L1414.54,438.65 L1414.60,439.65 L1414.65,440.65 L1414.70,441.65 L1414.75,442.65 L1414.81,443.65 L1414.87,444.65 L1414.93,445.64 L1415.00,446.64 L1415.07,447.64 L1415.15,448.64 L1415.22,449.63 L1415.30,450.63 L1415.39,451.63 L1415.47,452.62 L1415.56,453.62 L1415.65,454.61 L1415.74,455.61 L1415.83,456.61 L1415.92,457.60 L1416.01,458.60 L1416.11,459.59 L1416.20,460.59 L1416.30,461.58 L1416.39,462.58 L1416.48,463.57 L1416.57,464.56 L1416.66,465.52 L1416.70,466.00" fill="none" stroke="#4677b4" stroke-width="2.4" stroke-linejoin="round" stroke-linecap="round"/>
<path d="M915.00,229.80 L915.02,230.80 L915.04,231.80 L915.06,232.80 L915.07,233.80 L915.09,234.80 L915.11,235.80 L915.12,236.80 L915.14,237.80 L915.16,238.80 L915.17,239.80 L915.19,240.80 L915.21,241.80 L915.22,242.80 L915.24,243.80 L915.26,244.80 L915.27,245.80 L915.29,246.80 L915.31,247.80 L915.33,248.80 L915.35,249.80 L915.37,250.80 L915.39,251.80 L915.42,252.80 L915.46,253.80 L915.50,254.79 L915.55,255.79 L915.62,256.79 L915.69,257.79 L915.76,258.79 L915.84,259.78 L915.93,260.78 L916.03,261.77 L916.15,262.77 L916.27,263.76 L916.42,264.75 L916.58,265.73 L916.76,266.72 L916.94,267.70 L917.14,268.68 L917.34,269.66 L917.58,270.62 L917.92,271.53 L918.43,272.32 L919.13,272.94 L919.98,273.42 L920.90,273.79 L921.85,274.08 L922.82,274.29 L923.81,274.45 L924.80,274.57 L925.80,274.67 L926.79,274.77 L927.79,274.86 L928.78,274.95 L929.78,275.04 L930.78,275.13 L931.77,275.21 L932.77,275.29 L933.77,275.37 L934.76,275.45 L935.76,275.52 L936.76,275.59 L937.75,275.66 L938.75,275.73 L939.75,275.80 L940.75,275.86 L941.75,275.93 L942.74,275.99 L943.74,276.05 L944.74,276.10 L945.74,276.16 L946.74,276.22 L947.74,276.27 L948.73,276.32 L949.73,276.37 L950.73,276.42 L951.73,276.47 L952.73,276.51 L953.73,276.56 L954.73,276.60 L955.73,276.64 L956.73,276.68 L957.73,276.72 L958.72,276.76 L959.72,276.80 L960.72,276.84 L961.72,276.87 L962.72,276.91 L963.72,276.94 L964.72,276.97 L965.72,277.01 L966.72,277.04 L967.72,277.07 L968.72,277.10 L969.72,277.13 L970.72,277.16 L971.72,277.19 L972.72,277.22 L973.72,277.24 L974.72,277.27 L975.72,277.30 L976.72,277.33 L977.72,277.35 L978.71,277.38 L979.71,277.41 L980.71,277.43 L981.71,277.46 L982.71,277.48 L983.71,277.51 L984.71,277.54 L985.71,277.56 L986.71,277.59 L987.71,277.62 L988.71,277.64 L989.71,277.67 L990.71,277.70 L991.71,277.72 L992.71,277.75 L993.71,277.78 L994.71,277.81 L995.71,277.84 L996.71,277.87 L997.71,277.90 L998.71,277.93 L999.71,277.97 L1000.71,278.00 L1001.71,278.03 L1002.70,278.07 L1003.70,278.10 L1004.70,278.14 L1005.70,278.18 L1006.70,278.22 L1007.70,278.26 L1008.70,278.30 L1009.70,278.34 L1010.70,278.38 L1011.70,278.43 L1012.70,278.47 L1013.70,278.52 L1014.69,278.57 L1015.69,278.61 L1016.69,278.66 L1017.69,278.71 L1018.69,278.76 L1019.69,278.80 L1020.69,278.85 L1021.69,278.90 L1022.69,278.94 L1023.68,278.99 L1024.68,279.04 L1025.68,279.09 L1026.68,279.13 L1027.68,279.18 L1028.68,279.23 L1029.68,279.28 L1030.68,279.33 L1031.68,279.37 L1032.67,279.42 L1033.67,279.47 L1034.67,279.52 L1035.67,279.57 L1036.67,279.61 L1037.67,279.66 L1038.67,279.71 L1039.67,279.76 L1040.66,279.81 L1041.66,279.86 L1042.66,279.90 L1043.66,279.95 L1044.66,280.00 L1045.66,280.05 L1046.66,280.10 L1047.66,280.15 L1048.66,280.20 L1049.65,280.25 L1050.65,280.29 L1051.65,280.34 L1052.65,280.39 L1053.65,280.44 L1054.65,280.49 L1055.65,280.54 L1056.65,280.59 L1057.64,280.64 L1058.64,280.69 L1059.64,280.74 L1060.64,280.79 L1061.64,280.84 L1062.64,280.89 L1063.64,280.94 L1064.64,280.99 L1065.63,281.04 L1066.63,281.09 L1067.63,281.14 L1068.63,281.19 L1069.63,281.24 L1070.63,281.30 L1071.63,281.35 L1072.63,281.40 L1073.62,281.45 L1074.62,281.50 L1075.62,281.55 L1076.62,281.60 L1077.62,281.66 L1078.62,281.71 L1079.62,281.76 L1080.61,281.81 L1081.61,281.86 L1082.61,281.92 L1083.61,281.97 L1084.61,282.02 L1085.61,282.08 L1086.61,282.13 L1087.60,282.18 L1088.60,282.24 L1089.60,282.29 L1090.60,282.34 L1091.60,282.40 L1092.60,282.45 L1093.60,282.50 L1094.59,282.56 L1095.59,282.61 L1096.59,282.67 L1097.59,282.72 L1098.59,282.78 L1099.59,282.83 L1100.59,282.89 L1101.58,282.94 L1102.58,283.00 L1103.58,283.05 L1104.58,283.11 L1105.58,283.16 L1106.58,283.22 L1107.57,283.28 L1108.57,283.33 L1109.57,283.39 L1110.57,283.45 L1111.57,283.50 L1112.57,283.56 L1113.57,283.62 L1114.56,283.67 L1115.56,283.73 L1116.56,283.79 L1117.56,283.84 L1118.56,283.90 L1119.56,283.96 L1120.55,284.01 L1121.55,284.07 L1122.55,284.13 L1123.55,284.18 L1124.55,284.24 L1125.55,284.30 L1126.54,284.35 L1127.54,284.41 L1128.54,284.47 L1129.54,284.52 L1130.54,284.58 L1131.54,284.64 L1132.53,284.69 L1133.53,284.75 L1134.53,284.81 L1135.53,284.86 L1136.53,284.92 L1137.53,284.98 L1138.52,285.04 L1139.52,285.09 L1140.52,285.15 L1141.52,285.21 L1142.52,285.27 L1143.52,285.32 L1144.51,285.38 L1145.51,285.44 L1146.51,285.50 L1147.51,285.56 L1148.51,285.62 L1149.51,285.67 L1150.50,285.73 L1151.50,285.79 L1152.50,285.85 L1153.50,285.91 L1154.50,285.97 L1155.50,286.03 L1156.49,286.09 L1157.49,286.15 L1158.49,286.22 L1159.49,286.28 L1160.49,286.34 L1161.48,286.40 L1162.48,286.46 L1163.48,286.53 L1164.48,286.59 L1165.48,286.65 L1166.47,286.72 L1167.47,286.78 L1168.47,286.84 L1169.47,286.91 L1170.47,286.97 L1171.46,287.04 L1172.46,287.10 L1173.46,287.17 L1174.46,287.24 L1175.46,287.30 L1176.45,287.37 L1177.45,287.44 L1178.45,287.51 L1179.45,287.57 L1180.44,287.64 L1181.44,287.71 L1182.44,287.78 L1183.44,287.85 L1184.43,287.92 L1185.43,288.00 L1186.43,288.07 L1187.43,288.14 L1188.42,288.21 L1189.42,288.29 L1190.42,288.36 L1191.42,288.43 L1192.41,288.51 L1193.41,288.58 L1194.41,288.66 L1195.40,288.74 L1196.40,288.81 L1197.40,288.89 L1198.39,288.97 L1199.39,289.05 L1200.39,289.13 L1201.39,289.21 L1202.38,289.29 L1203.38,289.37 L1204.38,289.45 L1205.37,289.53 L1206.37,289.62 L1207.36,289.70 L1208.36,289.79 L1209.36,289.87 L1210.35,289.96 L1211.35,290.04 L1212.35,290.13 L1213.34,290.22 L1214.34,290.31 L1215.33,290.39 L1216.33,290.48 L1217.33,290.57 L1218.32,290.66 L1219.32,290.76 L1220.31,290.85 L1221.31,290.94 L1222.31,291.03 L1223.30,291.13 L1224.30,291.22 L1225.29,291.32 L1226.29,291.41 L1227.28,291.51 L1228.28,291.61 L1229.27,291.71 L1230.27,291.80 L1231.26,291.90 L1232.26,292.00 L1233.25,292.11 L1234.25,292.21 L1235.24,292.31 L1236.24,292.41 L1237.23,292.52 L1238.23,292.62 L1239.22,292.73 L1240.22,292.83 L1241.21,292.94 L1242.20,293.05 L1243.20,293.16 L1244.19,293.27 L1245.19,293.38 L1246.18,293.49 L1247.17,293.60 L1248.17,293.71 L1249.16,293.83 L1250.15,293.94 L1251.15,294.05 L1252.14,294.17 L1253.13,294.29 L1254.13,294.41 L1255.12,294.52 L1256.11,294.64 L1257.10,294.76 L1258.10,294.89 L1259.09,295.01 L1260.08,295.13 L1261.07,295.25 L1262.07,295.38 L1263.06,295.51 L1264.05,295.63 L1265.04,295.76 L1266.03,295.89 L1267.03,296.02 L1268.02,296.15 L1269.01,296.28 L1270.00,296.41 L1270.99,296.55 L1271.98,296.68 L1272.97,296.82 L1273.96,296.95 L1274.95,297.09 L1275.94,297.23 L1276.93,297.37 L1277.92,297.51 L1278.91,297.65 L1279.90,297.79 L1280.89,297.94 L1281.88,298.08 L1282.87,298.23 L1283.86,298.37 L1284.85,298.52 L1285.84,298.67 L1286.83,298.82 L1287.82,298.97 L1288.81,299.12 L1289.79,299.28 L1290.78,299.43 L1291.77,299.59 L1292.76,299.74 L1293.74,299.90 L1294.73,300.06 L1295.72,300.22 L1296.71,300.38 L1297.69,300.54 L1298.68,300.70 L1299.67,300.87 L1300.65,301.03 L1301.64,301.20 L1302.62,301.37 L1303.61,301.54 L1304.59,301.71 L1305.58,301.88 L1306.57,302.05 L1307.55,302.23 L1308.53,302.40 L1309.52,302.58 L1310.50,302.76 L1311.49,302.94 L1312.47,303.13 L1313.45,303.32 L1314.43,303.51 L1315.41,303.71 L1316.39,303.91 L1317.37,304.12 L1318.35,304.33 L1319.32,304.54 L1320.30,304.76 L1321.27,304.98 L1322.25,305.20 L1323.22,305.43 L1324.20,305.66 L1325.17,305.89 L1326.14,306.13 L1327.11,306.37 L1328.08,306.62 L1329.05,306.86 L1330.02,307.11 L1330.98,307.37 L1331.95,307.63 L1332.92,307.89 L1333.88,308.15 L1334.84,308.42 L1335.81,308.69 L1336.77,308.96 L1337.73,309.24 L1338.69,309.52 L1339.65,309.80 L1340.61,310.09 L1341.56,310.38 L1342.52,310.67 L1343.48,310.96 L1344.43,311.26 L1345.38,311.56 L1346.34,311.87 L1347.29,312.17 L1348.24,312.48 L1349.19,312.79 L1350.14,313.11 L1351.09,313.43 L1352.03,313.75 L1352.98,314.07 L1353.93,314.39 L1354.88,314.71 L1355.82,315.04 L1356.76,315.37 L1357.70,315.71 L1358.64,316.06 L1359.58,316.42 L1360.50,316.79 L1361.43,317.17 L1362.35,317.56 L1363.26,317.97 L1364.16,318.40 L1365.06,318.84 L1365.95,319.30 L1366.82,319.78 L1367.69,320.28 L1368.55,320.79 L1369.39,321.33 L1370.22,321.89 L1371.02,322.48 L1371.80,323.11 L1372.55,323.77 L1373.27,324.46 L1373.96,325.18 L1374.64,325.92 L1375.29,326.68 L1375.92,327.45 L1376.54,328.24 L1377.13,329.04 L1377.72,329.85 L1378.29,330.67 L1378.84,331.50 L1379.39,332.34 L1379.91,333.19 L1380.41,334.06 L1380.89,334.94 L1381.33,335.83 L1381.76,336.74 L1382.16,337.65 L1382.55,338.57 L1382.93,339.50 L1383.29,340.43 L1383.65,341.36 L1384.00,342.30 L1384.34,343.24 L1384.68,344.18 L1385.01,345.12 L1385.34,346.07 L1385.67,347.01 L1386.00,347.96 L1386.32,348.90 L1386.65,349.85 L1386.97,350.80 L1387.28,351.75 L1387.59,352.70 L1387.89,353.65 L1388.19,354.60 L1388.49,355.56 L1388.78,356.52 L1389.06,357.47 L1389.34,358.43 L1389.62,359.40 L1389.89,360.36 L1390.17,361.32 L1390.43,362.28 L1390.70,363.25 L1390.96,364.21 L1391.22,365.18 L1391.47,366.15 L1391.73,367.11 L1391.98,368.08 L1392.23,369.05 L1392.48,370.02 L1392.72,370.99 L1392.97,371.96 L1393.21,372.93 L1393.44,373.90 L1393.68,374.87 L1393.91,375.84 L1394.14,376.82 L1394.37,377.79 L1394.59,378.77 L1394.81,379.74 L1395.03,380.72 L1395.25,381.69 L1395.46,382.67 L1395.67,383.65 L1395.88,384.63 L1396.08,385.60 L1396.29,386.58 L1396.49,387.56 L1396.69,388.54 L1396.89,389.52 L1397.09,390.50 L1397.28,391.48 L1397.48,392.46 L1397.67,393.44 L1397.86,394.43 L1398.05,395.41 L1398.24,396.39 L1398.43,397.37 L1398.61,398.36 L1398.79,399.34 L1398.98,400.32 L1399.16,401.31 L1399.33,402.29 L1399.51,403.27 L1399.68,404.26 L1399.85,405.24 L1400.02,406.23 L1400.19,407.22 L1400.36,408.20 L1400.52,409.19 L1400.68,410.18 L1400.84,411.16 L1401.00,412.15 L1401.15,413.14 L1401.31,414.13 L1401.46,415.11 L1401.61,416.10 L1401.76,417.09 L1401.91,418.08 L1402.06,419.07 L1402.21,420.06 L1402.36,421.05 L1402.52,422.03 L1402.66,423.02 L1402.81,424.01 L1402.95,425.00 L1403.09,425.99 L1403.22,426.98 L1403.35,427.98 L1403.48,428.97 L1403.60,429.96 L1403.71,430.95 L1403.82,431.95 L1403.93,432.94 L1404.03,433.94 L1404.13,434.93 L1404.22,435.93 L1404.32,436.92 L1404.40,437.92 L1404.48,438.92 L1404.55,439.91 L1404.62,440.91 L1404.68,441.91 L1404.75,442.91 L1404.81,443.91 L1404.87,444.90 L1404.92,445.90 L1404.98,446.90 L1405.04,447.90 L1405.09,448.90 L1405.14,449.90 L1405.20,450.89 L1405.25,451.89 L1405.30,452.89 L1405.35,453.89 L1405.40,454.89 L1405.46,455.89 L1405.51,456.89 L1405.56,457.89 L1405.61,458.88 L1405.66,459.88 L1405.72,460.88 L1405.77,461.88 L1405.83,462.88 L1405.88,463.86 L1405.93,464.79 L1405.98,465.62 L1406.00,466.00" fill="none" stroke="#b4433f" stroke-width="2.4" stroke-linejoin="round" stroke-linecap="round"/>
<line x1="1323.1" y1="157.4" x2="1357.7" y2="157.4" stroke="#4677b4" stroke-width="2.5"/>
<text x="1364.9" y="162.7" class="rleg">0.5C</text>
<line x1="1323.1" y1="189.7" x2="1357.7" y2="189.7" stroke="#b4433f" stroke-width="2.5"/>
<text x="1364.9" y="194.9" class="rleg">1C</text>
</svg>
</body></html>
